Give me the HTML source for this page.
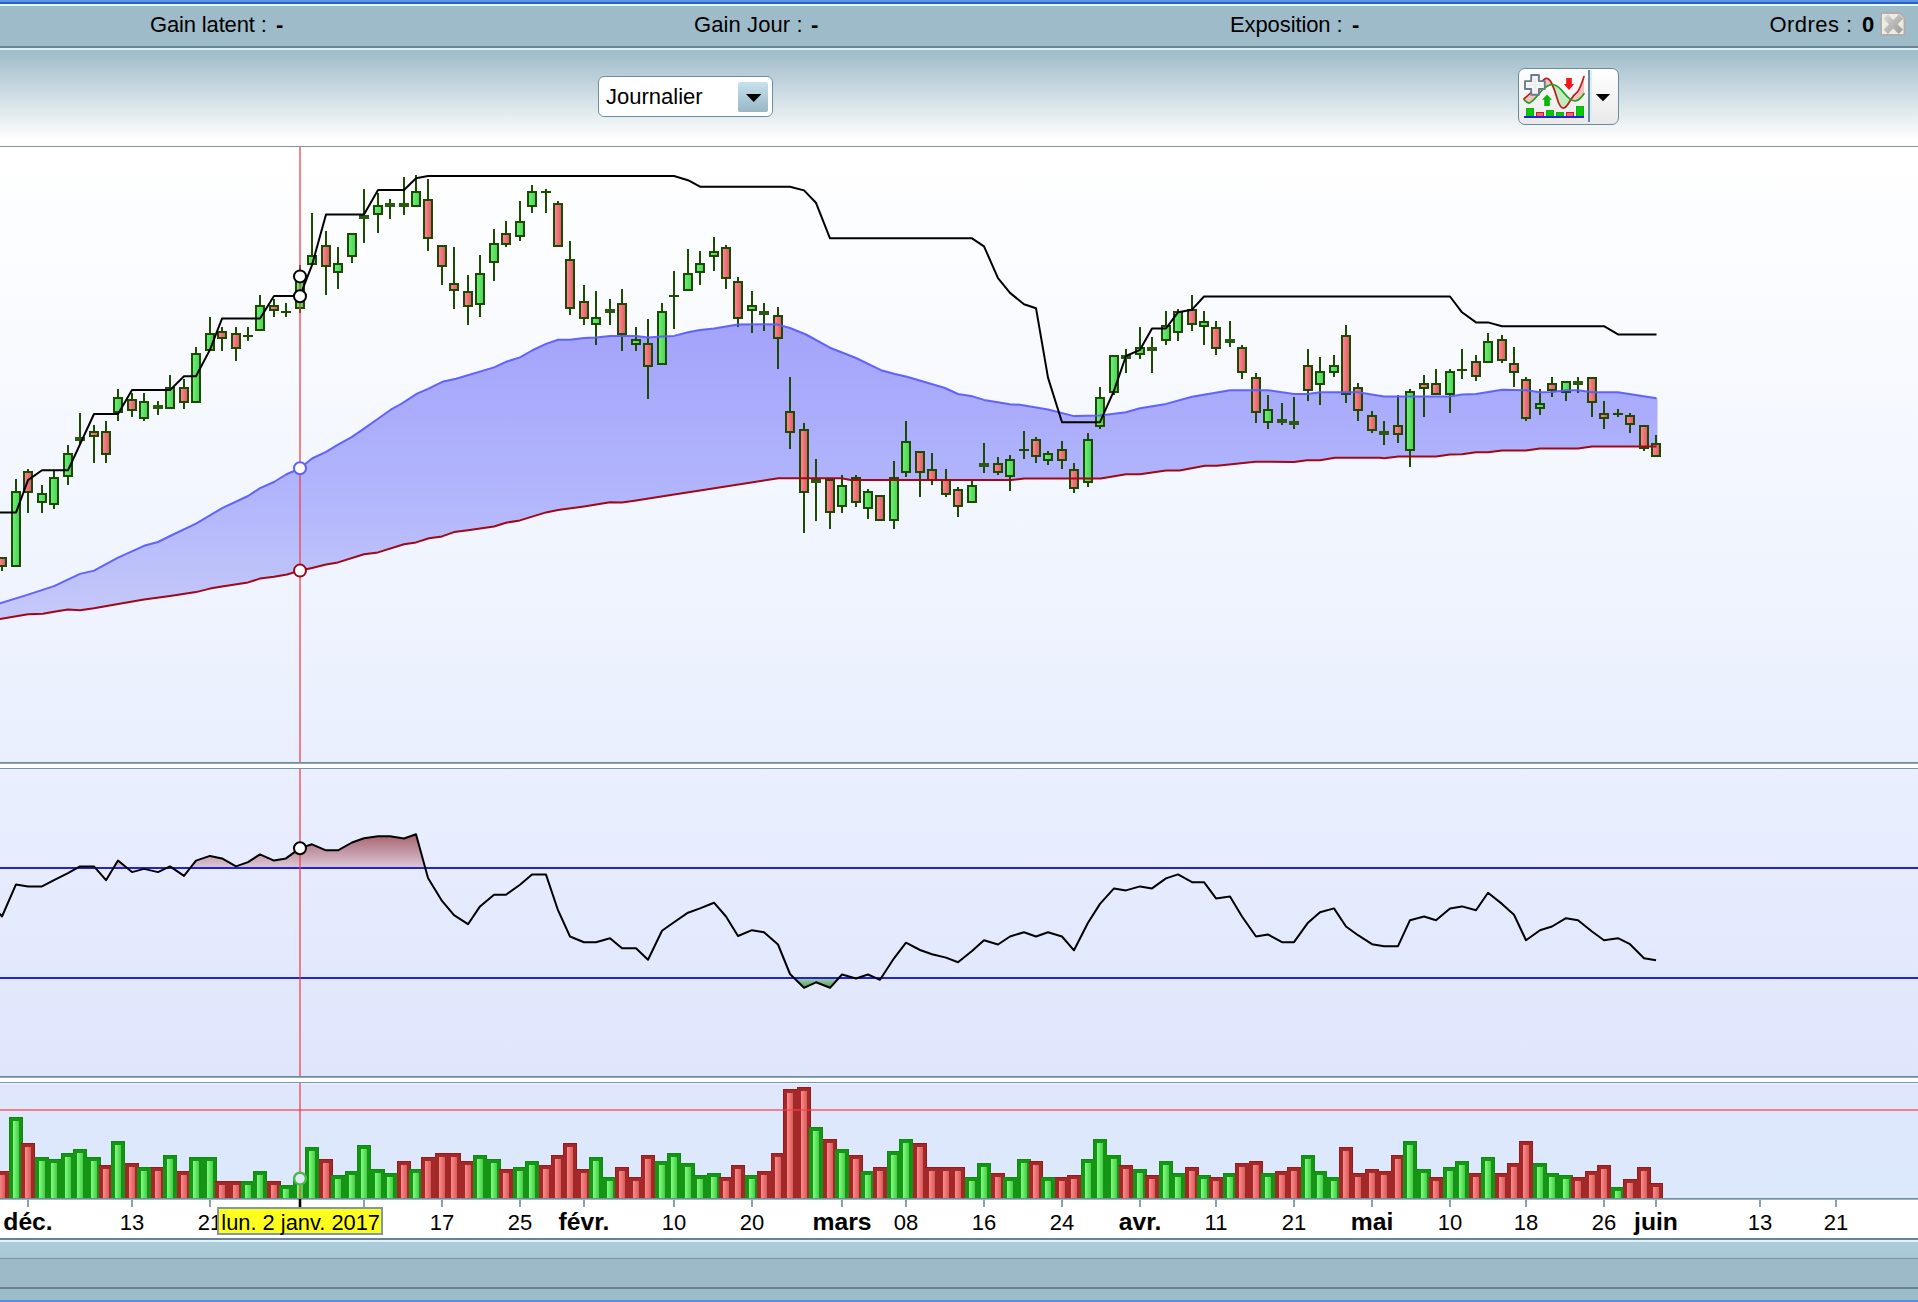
<!DOCTYPE html>
<html lang="fr"><head><meta charset="utf-8"><title>Graphique</title>
<style>
html,body{margin:0;padding:0;background:#fff}
body{width:1918px;height:1302px;position:relative;overflow:hidden;font-family:"Liberation Sans", Arial, sans-serif;color:#000}
.abs{position:absolute}
.t{position:absolute;white-space:pre;font-size:22px;line-height:26px;height:26px}
.b{font-weight:bold}
#topblue1{left:0;top:0;width:1918px;height:2px;background:#5c94ec}
#topblue2{left:0;top:2px;width:1918px;height:2px;background:#2860c4}
#toplight{left:0;top:4px;width:1918px;height:2px;background:#e4f8ff}
#hdr{left:0;top:6px;width:1918px;height:40px;background:#9dbbc8;border-top:1px solid #98b7c4;box-sizing:border-box}
#hdrdark{left:0;top:46px;width:1918px;height:2px;background:#6c8592}
#hdrlight{left:0;top:48px;width:1918px;height:2px;background:#daf0f8}
#tool{left:0;top:50px;width:1918px;height:96px;background:linear-gradient(to bottom,#9fbcc9 0%,#a5c0cd 7%,#ffffff 94%)}
#toolline{left:0;top:146px;width:1918px;height:1px;background:#7d95a3}
#combo{left:598px;top:76px;width:175px;height:41px;box-sizing:border-box;border:1px solid #6f8e9c;border-radius:6px;background:#fff}
#comboBtn{left:738px;top:82px;width:30px;height:30px;border-radius:2px;background:linear-gradient(to bottom,#c6e2ee,#98b6c4)}
#ibtn{left:1518px;top:68px;width:101px;height:57px;box-sizing:border-box;border:1px solid #6d8a98;border-radius:7px;background:linear-gradient(to bottom,#ffffff,#e9e9e9)}
#foot1{left:0;top:1238px;width:1918px;height:2px;background:#6b8290}
#foot2{left:0;top:1240px;width:1918px;height:2px;background:#dcf4fc}
#foot3{left:0;top:1242px;width:1918px;height:16px;background:linear-gradient(to bottom,#adccd9,#a9c8d6)}
#foot4{left:0;top:1258px;width:1918px;height:1px;background:#7a94a2}
#foot5{left:0;top:1259px;width:1918px;height:28px;background:#9cbac8}
#foot6{left:0;top:1287px;width:1918px;height:2px;background:#6c8490}
#foot7{left:0;top:1289px;width:1918px;height:11px;background:#9dbcc9}
#foot8{left:0;top:1300px;width:1918px;height:2px;background:#5a8ee8}
svg{position:absolute;left:0;top:0}
svg text{font-family:"Liberation Sans", Arial, sans-serif;font-size:22px;fill:#000}

</style></head><body>
<div class="abs" id="topblue1"></div>
<div class="abs" id="topblue2"></div>
<div class="abs" id="toplight"></div>
<div class="abs" id="hdr"></div>
<div class="abs" id="hdrdark"></div>
<div class="abs" id="hdrlight"></div>
<div class="abs" id="tool"></div>
<div class="abs" id="toolline"></div>
<div class="abs" id="foot1"></div>
<div class="abs" id="foot2"></div>
<div class="abs" id="foot3"></div>
<div class="abs" id="foot4"></div>
<div class="abs" id="foot5"></div>
<div class="abs" id="foot6"></div>
<div class="abs" id="foot7"></div>
<div class="abs" id="foot8"></div>
<div class="t" style="left:150px;top:12px;letter-spacing:-0.15px">Gain latent :</div>
<div class="t b" style="left:276px;top:12px">-</div>
<div class="t" style="left:694px;top:12px;letter-spacing:0.1px">Gain Jour :</div>
<div class="t b" style="left:811px;top:12px">-</div>
<div class="t" style="left:1230px;top:12px;letter-spacing:-0.1px">Exposition :</div>
<div class="t b" style="left:1352px;top:12px">-</div>
<div class="t" style="left:1769.5px;top:12px;letter-spacing:0.45px">Ordres :</div>
<div class="t b" style="left:1862px;top:12px">0</div>
<div class="abs" id="combo"></div><div class="abs" id="comboBtn"></div>
<div class="t" style="left:606px;top:84px">Journalier</div>
<div class="abs" id="ibtn"></div>
<svg width="1918" height="1302" viewBox="0 0 1918 1302">
<defs>
<linearGradient id="bgMain" x1="0" y1="0" x2="0" y2="1"><stop offset="0" stop-color="#ffffff"/><stop offset="0.45" stop-color="#f5f8fe"/><stop offset="1" stop-color="#e9effe"/></linearGradient>
<linearGradient id="bgInd" x1="0" y1="0" x2="0" y2="1"><stop offset="0" stop-color="#e9effe"/><stop offset="1" stop-color="#dfe6fc"/></linearGradient>
<linearGradient id="bgVol" x1="0" y1="0" x2="0" y2="1"><stop offset="0" stop-color="#e0e6fc"/><stop offset="0.4" stop-color="#dde8fc"/><stop offset="1" stop-color="#dce8fc"/></linearGradient>
<linearGradient id="band" gradientUnits="userSpaceOnUse" x1="0" y1="320" x2="0" y2="620"><stop offset="0" stop-color="#a3a3fb"/><stop offset="0.6" stop-color="#b2b6fc"/><stop offset="1" stop-color="#c5c9f9"/></linearGradient>
<linearGradient id="gG" x1="0" y1="0" x2="1" y2="0"><stop offset="0" stop-color="#68f070"/><stop offset="1" stop-color="#4fd45a"/></linearGradient>
<linearGradient id="gR" x1="0" y1="0" x2="1" y2="0"><stop offset="0" stop-color="#ff858c"/><stop offset="1" stop-color="#de6068"/></linearGradient>
<linearGradient id="vG" x1="0" y1="0" x2="1" y2="0"><stop offset="0" stop-color="#80ff80"/><stop offset="1" stop-color="#48cc48"/></linearGradient>
<linearGradient id="vR" x1="0" y1="0" x2="1" y2="0"><stop offset="0" stop-color="#ff8c8c"/><stop offset="1" stop-color="#d65c5c"/></linearGradient>
<linearGradient id="ob" gradientUnits="userSpaceOnUse" x1="0" y1="832" x2="0" y2="868"><stop offset="0" stop-color="#a45c68"/><stop offset="1" stop-color="#dcc8d8"/></linearGradient>
<linearGradient id="os" gradientUnits="userSpaceOnUse" x1="0" y1="978" x2="0" y2="990"><stop offset="0" stop-color="#a8d0b0"/><stop offset="1" stop-color="#3c9050"/></linearGradient>
<clipPath id="cMain"><rect x="0" y="147" width="1918" height="615"/></clipPath>
<clipPath id="cInd"><rect x="0" y="769" width="1918" height="307"/></clipPath>
<clipPath id="cVol"><rect x="0" y="1083" width="1918" height="115"/></clipPath>
<clipPath id="cOb"><rect x="0" y="769" width="1918" height="99"/></clipPath>
<clipPath id="cOs"><rect x="0" y="978" width="1918" height="98"/></clipPath>
</defs>
<rect x="0" y="147" width="1918" height="615" fill="url(#bgMain)"/>
<rect x="0" y="762" width="1918" height="1" fill="#6e8c9a"/>
<rect x="0" y="763" width="1918" height="1" fill="#8fa6b3"/>
<rect x="0" y="764" width="1918" height="4" fill="#ffffff"/>
<rect x="0" y="768" width="1918" height="1" fill="#7a95a2"/>
<rect x="0" y="769" width="1918" height="307" fill="url(#bgInd)"/>
<rect x="0" y="1076" width="1918" height="1" fill="#6e8c9a"/>
<rect x="0" y="1077" width="1918" height="1" fill="#8fa6b3"/>
<rect x="0" y="1078" width="1918" height="4" fill="#ffffff"/>
<rect x="0" y="1082" width="1918" height="1" fill="#7a95a2"/>
<rect x="0" y="1083" width="1918" height="115" fill="url(#bgVol)"/>
<rect x="0" y="1083" width="1918" height="1" fill="#f0f6ff"/>
<g clip-path="url(#cMain)">
<polygon points="-2,604 0,603.4 28,594.6 54,586.1 80,573.9 94,570.6 118,557.6 144,545.8 158,542 170,536 196,523.6 222,508.2 248,496 260,488.2 274,482 286,474.5 300,468.3 312,458.5 326,451.9 338,444.6 352,436.9 364,428.6 378,418.7 390.7,409.7 401,404 417,393.6 428,388.8 442.3,381.8 456,378.7 494,367.4 506,361.8 520,357.4 532,350.5 546,343.9 558,339.8 570,339.8 584,337.9 596,337.4 610,335.9 622,335.9 636,336.1 648,337.4 662,336.4 674,335.9 688,332.2 700,329.9 714,328.4 738,324.6 764,324.2 778,324.6 790,328 806,334.5 830,347.7 856,358 881,370.2 895,374 907,376.8 945,388 958,394 971,395.9 984,399.9 1010,404.3 1020,404.8 1048,409.5 1074,416.1 1100,415.5 1126,412.3 1140,408.2 1166,403.9 1192,396.7 1230,390.2 1268,390.2 1294,393.9 1308,393.9 1320,392.2 1358,392.2 1384,396.4 1450,396.4 1462,394.5 1476,394.1 1502,389.8 1526,390.2 1540,392.2 1552,392 1566,390.2 1578,390.2 1592,392.2 1618,392.2 1656.5,398.2 1657.5,398.2 1657.5,446.5 1656.5,446.5 1592,446.5 1578,448.5 1540,448.5 1526,450.4 1502,450.4 1488,452.3 1476,452.3 1462,454.2 1450,454.5 1436,456.4 1398.5,456.4 1384,458.3 1380,457.7 1335,457.7 1320,460.2 1307,460.2 1294,462.1 1255.5,461.7 1217,465.8 1205,465.8 1179.5,470.5 1166,470.5 1140,474.3 1126,474.3 1100.7,478.6 1024.4,478.4 1011.3,480.1 850.8,480.1 841.4,478.2 778.5,478.2 700,490.6 674,494.4 636,500.4 622,502.4 610,502.2 584,506.4 558,510.1 546,512.4 520,520.4 506,522.7 494,526.5 468,530.2 454,532.1 442,536.4 429,538.3 416,542.4 404,544.3 378,552.4 364,554.2 338,562.4 326,564.5 312,567.9 300,570.6 287,574.5 274,576.8 260,578.6 248,582.4 222,586.5 210,588.6 196,592.1 170,595.9 144,599.6 118,604 94,608.3 80,610.2 68,609.6 54,611.8 43,613.7 28,614.3 0,619 -2,619.4" fill="url(#band)"/>
<rect x="1" y="557" width="2" height="14" fill="#1c4a02"/>
<rect x="-3" y="557" width="10" height="10" fill="#1c4a02"/>
<rect x="-1" y="559" width="6" height="6" fill="url(#gR)"/>
<rect x="15" y="479" width="2" height="88" fill="#1c4a02"/>
<rect x="11" y="491" width="10" height="76" fill="#1c4a02"/>
<rect x="13" y="493" width="6" height="72" fill="url(#gG)"/>
<rect x="27" y="469" width="2" height="44" fill="#1c4a02"/>
<rect x="23" y="471" width="10" height="22" fill="#1c4a02"/>
<rect x="25" y="473" width="6" height="18" fill="url(#gR)"/>
<rect x="41" y="485" width="2" height="28" fill="#1c4a02"/>
<rect x="37" y="493" width="10" height="10" fill="#1c4a02"/>
<rect x="39" y="495" width="6" height="6" fill="url(#gG)"/>
<rect x="53" y="471" width="2" height="38" fill="#1c4a02"/>
<rect x="49" y="477" width="10" height="28" fill="#1c4a02"/>
<rect x="51" y="479" width="6" height="24" fill="url(#gG)"/>
<rect x="67" y="445" width="2" height="40" fill="#1c4a02"/>
<rect x="63" y="453" width="10" height="24" fill="#1c4a02"/>
<rect x="65" y="455" width="6" height="20" fill="url(#gG)"/>
<rect x="79" y="413" width="2" height="32" fill="#1c4a02"/>
<rect x="75" y="437" width="10" height="4" fill="#2a5a12"/>
<rect x="93" y="425" width="2" height="38" fill="#1c4a02"/>
<rect x="89" y="431" width="10" height="6" fill="#1c4a02"/>
<rect x="91" y="433" width="6" height="2" fill="url(#gR)"/>
<rect x="105" y="421" width="2" height="42" fill="#1c4a02"/>
<rect x="101" y="431" width="10" height="24" fill="#1c4a02"/>
<rect x="103" y="433" width="6" height="20" fill="url(#gR)"/>
<rect x="117" y="389" width="2" height="32" fill="#1c4a02"/>
<rect x="113" y="397" width="10" height="16" fill="#1c4a02"/>
<rect x="115" y="399" width="6" height="12" fill="url(#gG)"/>
<rect x="131" y="393" width="2" height="24" fill="#1c4a02"/>
<rect x="127" y="399" width="10" height="12" fill="#1c4a02"/>
<rect x="129" y="401" width="6" height="8" fill="url(#gR)"/>
<rect x="143" y="393" width="2" height="28" fill="#1c4a02"/>
<rect x="139" y="401" width="10" height="18" fill="#1c4a02"/>
<rect x="141" y="403" width="6" height="14" fill="url(#gG)"/>
<rect x="157" y="401" width="2" height="14" fill="#1c4a02"/>
<rect x="153" y="405" width="10" height="4" fill="#2a5a12"/>
<rect x="169" y="375" width="2" height="34" fill="#1c4a02"/>
<rect x="165" y="387" width="10" height="22" fill="#1c4a02"/>
<rect x="167" y="389" width="6" height="18" fill="url(#gG)"/>
<rect x="183" y="379" width="2" height="30" fill="#1c4a02"/>
<rect x="179" y="387" width="10" height="16" fill="#1c4a02"/>
<rect x="181" y="389" width="6" height="12" fill="url(#gR)"/>
<rect x="195" y="347" width="2" height="56" fill="#1c4a02"/>
<rect x="191" y="353" width="10" height="50" fill="#1c4a02"/>
<rect x="193" y="355" width="6" height="46" fill="url(#gG)"/>
<rect x="209" y="317" width="2" height="34" fill="#1c4a02"/>
<rect x="205" y="333" width="10" height="18" fill="#1c4a02"/>
<rect x="207" y="335" width="6" height="14" fill="url(#gG)"/>
<rect x="221" y="327" width="2" height="24" fill="#1c4a02"/>
<rect x="217" y="331" width="10" height="8" fill="#1c4a02"/>
<rect x="219" y="333" width="6" height="4" fill="url(#gR)"/>
<rect x="235" y="327" width="2" height="34" fill="#1c4a02"/>
<rect x="231" y="333" width="10" height="16" fill="#1c4a02"/>
<rect x="233" y="335" width="6" height="12" fill="url(#gR)"/>
<rect x="247" y="327" width="2" height="14" fill="#1c4a02"/>
<rect x="243" y="335" width="10" height="2" fill="#1c4a02"/>
<rect x="259" y="295" width="2" height="36" fill="#1c4a02"/>
<rect x="255" y="305" width="10" height="26" fill="#1c4a02"/>
<rect x="257" y="307" width="6" height="22" fill="url(#gG)"/>
<rect x="273" y="299" width="2" height="18" fill="#1c4a02"/>
<rect x="269" y="305" width="10" height="6" fill="#1c4a02"/>
<rect x="271" y="307" width="6" height="2" fill="url(#gR)"/>
<rect x="285" y="303" width="2" height="14" fill="#1c4a02"/>
<rect x="281" y="311" width="10" height="2" fill="#1c4a02"/>
<rect x="299" y="265" width="2" height="48" fill="#1c4a02"/>
<rect x="295" y="277" width="10" height="32" fill="#1c4a02"/>
<rect x="297" y="279" width="6" height="28" fill="url(#gG)"/>
<rect x="311" y="213" width="2" height="52" fill="#1c4a02"/>
<rect x="307" y="255" width="10" height="10" fill="#1c4a02"/>
<rect x="309" y="257" width="6" height="6" fill="url(#gG)"/>
<rect x="325" y="231" width="2" height="64" fill="#1c4a02"/>
<rect x="321" y="245" width="10" height="22" fill="#1c4a02"/>
<rect x="323" y="247" width="6" height="18" fill="url(#gR)"/>
<rect x="337" y="247" width="2" height="42" fill="#1c4a02"/>
<rect x="333" y="263" width="10" height="10" fill="#1c4a02"/>
<rect x="335" y="265" width="6" height="6" fill="url(#gG)"/>
<rect x="351" y="233" width="2" height="30" fill="#1c4a02"/>
<rect x="347" y="233" width="10" height="24" fill="#1c4a02"/>
<rect x="349" y="235" width="6" height="20" fill="url(#gG)"/>
<rect x="363" y="189" width="2" height="54" fill="#1c4a02"/>
<rect x="359" y="215" width="10" height="4" fill="#2a5a12"/>
<rect x="377" y="193" width="2" height="40" fill="#1c4a02"/>
<rect x="373" y="205" width="10" height="10" fill="#1c4a02"/>
<rect x="375" y="207" width="6" height="6" fill="url(#gG)"/>
<rect x="389" y="199" width="2" height="20" fill="#1c4a02"/>
<rect x="385" y="203" width="10" height="4" fill="#2a5a12"/>
<rect x="403" y="177" width="2" height="38" fill="#1c4a02"/>
<rect x="399" y="203" width="10" height="4" fill="#2a5a12"/>
<rect x="415" y="175" width="2" height="32" fill="#1c4a02"/>
<rect x="411" y="191" width="10" height="16" fill="#1c4a02"/>
<rect x="413" y="193" width="6" height="12" fill="url(#gG)"/>
<rect x="427" y="179" width="2" height="72" fill="#1c4a02"/>
<rect x="423" y="199" width="10" height="40" fill="#1c4a02"/>
<rect x="425" y="201" width="6" height="36" fill="url(#gR)"/>
<rect x="441" y="245" width="2" height="40" fill="#1c4a02"/>
<rect x="437" y="245" width="10" height="22" fill="#1c4a02"/>
<rect x="439" y="247" width="6" height="18" fill="url(#gR)"/>
<rect x="453" y="247" width="2" height="62" fill="#1c4a02"/>
<rect x="449" y="283" width="10" height="8" fill="#1c4a02"/>
<rect x="451" y="285" width="6" height="4" fill="url(#gR)"/>
<rect x="467" y="275" width="2" height="50" fill="#1c4a02"/>
<rect x="463" y="291" width="10" height="16" fill="#1c4a02"/>
<rect x="465" y="293" width="6" height="12" fill="url(#gR)"/>
<rect x="479" y="255" width="2" height="62" fill="#1c4a02"/>
<rect x="475" y="273" width="10" height="32" fill="#1c4a02"/>
<rect x="477" y="275" width="6" height="28" fill="url(#gG)"/>
<rect x="493" y="229" width="2" height="52" fill="#1c4a02"/>
<rect x="489" y="243" width="10" height="20" fill="#1c4a02"/>
<rect x="491" y="245" width="6" height="16" fill="url(#gG)"/>
<rect x="505" y="221" width="2" height="26" fill="#1c4a02"/>
<rect x="501" y="233" width="10" height="12" fill="#1c4a02"/>
<rect x="503" y="235" width="6" height="8" fill="url(#gR)"/>
<rect x="519" y="201" width="2" height="40" fill="#1c4a02"/>
<rect x="515" y="221" width="10" height="16" fill="#1c4a02"/>
<rect x="517" y="223" width="6" height="12" fill="url(#gG)"/>
<rect x="531" y="185" width="2" height="28" fill="#1c4a02"/>
<rect x="527" y="191" width="10" height="16" fill="#1c4a02"/>
<rect x="529" y="193" width="6" height="12" fill="url(#gG)"/>
<rect x="545" y="189" width="2" height="24" fill="#1c4a02"/>
<rect x="541" y="191" width="10" height="2" fill="#1c4a02"/>
<rect x="557" y="201" width="2" height="46" fill="#1c4a02"/>
<rect x="553" y="203" width="10" height="44" fill="#1c4a02"/>
<rect x="555" y="205" width="6" height="40" fill="url(#gR)"/>
<rect x="569" y="241" width="2" height="74" fill="#1c4a02"/>
<rect x="565" y="259" width="10" height="50" fill="#1c4a02"/>
<rect x="567" y="261" width="6" height="46" fill="url(#gR)"/>
<rect x="583" y="285" width="2" height="40" fill="#1c4a02"/>
<rect x="579" y="301" width="10" height="18" fill="#1c4a02"/>
<rect x="581" y="303" width="6" height="14" fill="url(#gR)"/>
<rect x="595" y="291" width="2" height="54" fill="#1c4a02"/>
<rect x="591" y="317" width="10" height="8" fill="#1c4a02"/>
<rect x="593" y="319" width="6" height="4" fill="url(#gG)"/>
<rect x="609" y="299" width="2" height="26" fill="#1c4a02"/>
<rect x="605" y="309" width="10" height="4" fill="#2a5a12"/>
<rect x="621" y="289" width="2" height="62" fill="#1c4a02"/>
<rect x="617" y="303" width="10" height="32" fill="#1c4a02"/>
<rect x="619" y="305" width="6" height="28" fill="url(#gR)"/>
<rect x="635" y="327" width="2" height="24" fill="#1c4a02"/>
<rect x="631" y="339" width="10" height="6" fill="#1c4a02"/>
<rect x="633" y="341" width="6" height="2" fill="url(#gG)"/>
<rect x="647" y="319" width="2" height="80" fill="#1c4a02"/>
<rect x="643" y="343" width="10" height="24" fill="#1c4a02"/>
<rect x="645" y="345" width="6" height="20" fill="url(#gR)"/>
<rect x="661" y="303" width="2" height="62" fill="#1c4a02"/>
<rect x="657" y="311" width="10" height="54" fill="#1c4a02"/>
<rect x="659" y="313" width="6" height="50" fill="url(#gG)"/>
<rect x="673" y="271" width="2" height="58" fill="#1c4a02"/>
<rect x="669" y="295" width="10" height="2" fill="#1c4a02"/>
<rect x="687" y="249" width="2" height="42" fill="#1c4a02"/>
<rect x="683" y="273" width="10" height="18" fill="#1c4a02"/>
<rect x="685" y="275" width="6" height="14" fill="url(#gG)"/>
<rect x="699" y="251" width="2" height="34" fill="#1c4a02"/>
<rect x="695" y="263" width="10" height="10" fill="#1c4a02"/>
<rect x="697" y="265" width="6" height="6" fill="url(#gG)"/>
<rect x="713" y="237" width="2" height="34" fill="#1c4a02"/>
<rect x="709" y="251" width="10" height="6" fill="#1c4a02"/>
<rect x="711" y="253" width="6" height="2" fill="url(#gG)"/>
<rect x="725" y="245" width="2" height="44" fill="#1c4a02"/>
<rect x="721" y="247" width="10" height="32" fill="#1c4a02"/>
<rect x="723" y="249" width="6" height="28" fill="url(#gR)"/>
<rect x="737" y="277" width="2" height="50" fill="#1c4a02"/>
<rect x="733" y="281" width="10" height="38" fill="#1c4a02"/>
<rect x="735" y="283" width="6" height="34" fill="url(#gR)"/>
<rect x="751" y="291" width="2" height="42" fill="#1c4a02"/>
<rect x="747" y="305" width="10" height="6" fill="#1c4a02"/>
<rect x="749" y="307" width="6" height="2" fill="url(#gG)"/>
<rect x="763" y="303" width="2" height="28" fill="#1c4a02"/>
<rect x="759" y="311" width="10" height="4" fill="#2a5a12"/>
<rect x="777" y="307" width="2" height="62" fill="#1c4a02"/>
<rect x="773" y="315" width="10" height="24" fill="#1c4a02"/>
<rect x="775" y="317" width="6" height="20" fill="url(#gR)"/>
<rect x="789" y="377" width="2" height="72" fill="#1c4a02"/>
<rect x="785" y="411" width="10" height="22" fill="#1c4a02"/>
<rect x="787" y="413" width="6" height="18" fill="url(#gR)"/>
<rect x="803" y="423" width="2" height="110" fill="#1c4a02"/>
<rect x="799" y="429" width="10" height="64" fill="#1c4a02"/>
<rect x="801" y="431" width="6" height="60" fill="url(#gR)"/>
<rect x="815" y="459" width="2" height="62" fill="#1c4a02"/>
<rect x="811" y="479" width="10" height="4" fill="#2a5a12"/>
<rect x="829" y="479" width="2" height="50" fill="#1c4a02"/>
<rect x="825" y="479" width="10" height="34" fill="#1c4a02"/>
<rect x="827" y="481" width="6" height="30" fill="url(#gR)"/>
<rect x="841" y="475" width="2" height="38" fill="#1c4a02"/>
<rect x="837" y="485" width="10" height="22" fill="#1c4a02"/>
<rect x="839" y="487" width="6" height="18" fill="url(#gG)"/>
<rect x="855" y="475" width="2" height="32" fill="#1c4a02"/>
<rect x="851" y="477" width="10" height="26" fill="#1c4a02"/>
<rect x="853" y="479" width="6" height="22" fill="url(#gR)"/>
<rect x="867" y="489" width="2" height="30" fill="#1c4a02"/>
<rect x="863" y="491" width="10" height="18" fill="#1c4a02"/>
<rect x="865" y="493" width="6" height="14" fill="url(#gG)"/>
<rect x="879" y="495" width="2" height="26" fill="#1c4a02"/>
<rect x="875" y="495" width="10" height="26" fill="#1c4a02"/>
<rect x="877" y="497" width="6" height="22" fill="url(#gR)"/>
<rect x="893" y="461" width="2" height="68" fill="#1c4a02"/>
<rect x="889" y="477" width="10" height="44" fill="#1c4a02"/>
<rect x="891" y="479" width="6" height="40" fill="url(#gG)"/>
<rect x="905" y="421" width="2" height="56" fill="#1c4a02"/>
<rect x="901" y="441" width="10" height="32" fill="#1c4a02"/>
<rect x="903" y="443" width="6" height="28" fill="url(#gG)"/>
<rect x="919" y="451" width="2" height="46" fill="#1c4a02"/>
<rect x="915" y="451" width="10" height="22" fill="#1c4a02"/>
<rect x="917" y="453" width="6" height="18" fill="url(#gR)"/>
<rect x="931" y="453" width="2" height="32" fill="#1c4a02"/>
<rect x="927" y="469" width="10" height="12" fill="#1c4a02"/>
<rect x="929" y="471" width="6" height="8" fill="url(#gR)"/>
<rect x="945" y="469" width="2" height="28" fill="#1c4a02"/>
<rect x="941" y="479" width="10" height="16" fill="#1c4a02"/>
<rect x="943" y="481" width="6" height="12" fill="url(#gR)"/>
<rect x="957" y="487" width="2" height="30" fill="#1c4a02"/>
<rect x="953" y="489" width="10" height="18" fill="#1c4a02"/>
<rect x="955" y="491" width="6" height="14" fill="url(#gR)"/>
<rect x="971" y="481" width="2" height="22" fill="#1c4a02"/>
<rect x="967" y="485" width="10" height="18" fill="#1c4a02"/>
<rect x="969" y="487" width="6" height="14" fill="url(#gG)"/>
<rect x="983" y="443" width="2" height="30" fill="#1c4a02"/>
<rect x="979" y="463" width="10" height="4" fill="#2a5a12"/>
<rect x="997" y="457" width="2" height="18" fill="#1c4a02"/>
<rect x="993" y="463" width="10" height="10" fill="#1c4a02"/>
<rect x="995" y="465" width="6" height="6" fill="url(#gR)"/>
<rect x="1009" y="455" width="2" height="36" fill="#1c4a02"/>
<rect x="1005" y="459" width="10" height="18" fill="#1c4a02"/>
<rect x="1007" y="461" width="6" height="14" fill="url(#gG)"/>
<rect x="1023" y="431" width="2" height="28" fill="#1c4a02"/>
<rect x="1019" y="449" width="10" height="2" fill="#1c4a02"/>
<rect x="1035" y="437" width="2" height="26" fill="#1c4a02"/>
<rect x="1031" y="439" width="10" height="18" fill="#1c4a02"/>
<rect x="1033" y="441" width="6" height="14" fill="url(#gR)"/>
<rect x="1047" y="451" width="2" height="14" fill="#1c4a02"/>
<rect x="1043" y="453" width="10" height="8" fill="#1c4a02"/>
<rect x="1045" y="455" width="6" height="4" fill="url(#gG)"/>
<rect x="1061" y="441" width="2" height="28" fill="#1c4a02"/>
<rect x="1057" y="449" width="10" height="12" fill="#1c4a02"/>
<rect x="1059" y="451" width="6" height="8" fill="url(#gR)"/>
<rect x="1073" y="463" width="2" height="30" fill="#1c4a02"/>
<rect x="1069" y="469" width="10" height="20" fill="#1c4a02"/>
<rect x="1071" y="471" width="6" height="16" fill="url(#gR)"/>
<rect x="1087" y="433" width="2" height="54" fill="#1c4a02"/>
<rect x="1083" y="439" width="10" height="44" fill="#1c4a02"/>
<rect x="1085" y="441" width="6" height="40" fill="url(#gG)"/>
<rect x="1099" y="387" width="2" height="42" fill="#1c4a02"/>
<rect x="1095" y="397" width="10" height="30" fill="#1c4a02"/>
<rect x="1097" y="399" width="6" height="26" fill="url(#gG)"/>
<rect x="1113" y="355" width="2" height="40" fill="#1c4a02"/>
<rect x="1109" y="355" width="10" height="38" fill="#1c4a02"/>
<rect x="1111" y="357" width="6" height="34" fill="url(#gG)"/>
<rect x="1125" y="349" width="2" height="24" fill="#1c4a02"/>
<rect x="1121" y="355" width="10" height="4" fill="#2a5a12"/>
<rect x="1139" y="327" width="2" height="32" fill="#1c4a02"/>
<rect x="1135" y="347" width="10" height="8" fill="#1c4a02"/>
<rect x="1137" y="349" width="6" height="4" fill="url(#gG)"/>
<rect x="1151" y="337" width="2" height="36" fill="#1c4a02"/>
<rect x="1147" y="347" width="10" height="4" fill="#2a5a12"/>
<rect x="1165" y="311" width="2" height="34" fill="#1c4a02"/>
<rect x="1161" y="325" width="10" height="16" fill="#1c4a02"/>
<rect x="1163" y="327" width="6" height="12" fill="url(#gG)"/>
<rect x="1177" y="309" width="2" height="32" fill="#1c4a02"/>
<rect x="1173" y="311" width="10" height="22" fill="#1c4a02"/>
<rect x="1175" y="313" width="6" height="18" fill="url(#gG)"/>
<rect x="1191" y="295" width="2" height="36" fill="#1c4a02"/>
<rect x="1187" y="309" width="10" height="16" fill="#1c4a02"/>
<rect x="1189" y="311" width="6" height="12" fill="url(#gR)"/>
<rect x="1203" y="311" width="2" height="34" fill="#1c4a02"/>
<rect x="1199" y="321" width="10" height="6" fill="#1c4a02"/>
<rect x="1201" y="323" width="6" height="2" fill="url(#gG)"/>
<rect x="1215" y="321" width="2" height="34" fill="#1c4a02"/>
<rect x="1211" y="327" width="10" height="22" fill="#1c4a02"/>
<rect x="1213" y="329" width="6" height="18" fill="url(#gR)"/>
<rect x="1229" y="321" width="2" height="26" fill="#1c4a02"/>
<rect x="1225" y="339" width="10" height="4" fill="#2a5a12"/>
<rect x="1241" y="345" width="2" height="34" fill="#1c4a02"/>
<rect x="1237" y="347" width="10" height="26" fill="#1c4a02"/>
<rect x="1239" y="349" width="6" height="22" fill="url(#gR)"/>
<rect x="1255" y="373" width="2" height="50" fill="#1c4a02"/>
<rect x="1251" y="377" width="10" height="36" fill="#1c4a02"/>
<rect x="1253" y="379" width="6" height="32" fill="url(#gR)"/>
<rect x="1267" y="395" width="2" height="34" fill="#1c4a02"/>
<rect x="1263" y="409" width="10" height="14" fill="#1c4a02"/>
<rect x="1265" y="411" width="6" height="10" fill="url(#gG)"/>
<rect x="1281" y="403" width="2" height="22" fill="#1c4a02"/>
<rect x="1277" y="419" width="10" height="4" fill="#2a5a12"/>
<rect x="1293" y="397" width="2" height="32" fill="#1c4a02"/>
<rect x="1289" y="421" width="10" height="4" fill="#2a5a12"/>
<rect x="1307" y="349" width="2" height="52" fill="#1c4a02"/>
<rect x="1303" y="365" width="10" height="26" fill="#1c4a02"/>
<rect x="1305" y="367" width="6" height="22" fill="url(#gR)"/>
<rect x="1319" y="357" width="2" height="48" fill="#1c4a02"/>
<rect x="1315" y="371" width="10" height="14" fill="#1c4a02"/>
<rect x="1317" y="373" width="6" height="10" fill="url(#gG)"/>
<rect x="1333" y="355" width="2" height="22" fill="#1c4a02"/>
<rect x="1329" y="365" width="10" height="8" fill="#1c4a02"/>
<rect x="1331" y="367" width="6" height="4" fill="url(#gG)"/>
<rect x="1345" y="325" width="2" height="78" fill="#1c4a02"/>
<rect x="1341" y="335" width="10" height="60" fill="#1c4a02"/>
<rect x="1343" y="337" width="6" height="56" fill="url(#gR)"/>
<rect x="1357" y="383" width="2" height="38" fill="#1c4a02"/>
<rect x="1353" y="387" width="10" height="24" fill="#1c4a02"/>
<rect x="1355" y="389" width="6" height="20" fill="url(#gR)"/>
<rect x="1371" y="411" width="2" height="22" fill="#1c4a02"/>
<rect x="1367" y="415" width="10" height="16" fill="#1c4a02"/>
<rect x="1369" y="417" width="6" height="12" fill="url(#gR)"/>
<rect x="1383" y="421" width="2" height="24" fill="#1c4a02"/>
<rect x="1379" y="431" width="10" height="4" fill="#2a5a12"/>
<rect x="1397" y="395" width="2" height="48" fill="#1c4a02"/>
<rect x="1393" y="425" width="10" height="10" fill="#1c4a02"/>
<rect x="1395" y="427" width="6" height="6" fill="url(#gR)"/>
<rect x="1409" y="389" width="2" height="78" fill="#1c4a02"/>
<rect x="1405" y="391" width="10" height="60" fill="#1c4a02"/>
<rect x="1407" y="393" width="6" height="56" fill="url(#gG)"/>
<rect x="1423" y="375" width="2" height="42" fill="#1c4a02"/>
<rect x="1419" y="383" width="10" height="6" fill="#1c4a02"/>
<rect x="1421" y="385" width="6" height="2" fill="url(#gR)"/>
<rect x="1435" y="369" width="2" height="26" fill="#1c4a02"/>
<rect x="1431" y="383" width="10" height="12" fill="#1c4a02"/>
<rect x="1433" y="385" width="6" height="8" fill="url(#gR)"/>
<rect x="1449" y="369" width="2" height="44" fill="#1c4a02"/>
<rect x="1445" y="371" width="10" height="24" fill="#1c4a02"/>
<rect x="1447" y="373" width="6" height="20" fill="url(#gG)"/>
<rect x="1461" y="349" width="2" height="30" fill="#1c4a02"/>
<rect x="1457" y="369" width="10" height="2" fill="#1c4a02"/>
<rect x="1475" y="355" width="2" height="26" fill="#1c4a02"/>
<rect x="1471" y="361" width="10" height="16" fill="#1c4a02"/>
<rect x="1473" y="363" width="6" height="12" fill="url(#gR)"/>
<rect x="1487" y="333" width="2" height="30" fill="#1c4a02"/>
<rect x="1483" y="341" width="10" height="22" fill="#1c4a02"/>
<rect x="1485" y="343" width="6" height="18" fill="url(#gG)"/>
<rect x="1501" y="335" width="2" height="28" fill="#1c4a02"/>
<rect x="1497" y="339" width="10" height="22" fill="#1c4a02"/>
<rect x="1499" y="341" width="6" height="18" fill="url(#gR)"/>
<rect x="1513" y="347" width="2" height="40" fill="#1c4a02"/>
<rect x="1509" y="363" width="10" height="10" fill="#1c4a02"/>
<rect x="1511" y="365" width="6" height="6" fill="url(#gR)"/>
<rect x="1525" y="377" width="2" height="44" fill="#1c4a02"/>
<rect x="1521" y="379" width="10" height="40" fill="#1c4a02"/>
<rect x="1523" y="381" width="6" height="36" fill="url(#gR)"/>
<rect x="1539" y="389" width="2" height="26" fill="#1c4a02"/>
<rect x="1535" y="403" width="10" height="6" fill="#1c4a02"/>
<rect x="1537" y="405" width="6" height="2" fill="url(#gG)"/>
<rect x="1551" y="377" width="2" height="20" fill="#1c4a02"/>
<rect x="1547" y="383" width="10" height="8" fill="#1c4a02"/>
<rect x="1549" y="385" width="6" height="4" fill="url(#gR)"/>
<rect x="1565" y="381" width="2" height="20" fill="#1c4a02"/>
<rect x="1561" y="381" width="10" height="12" fill="#1c4a02"/>
<rect x="1563" y="383" width="6" height="8" fill="url(#gG)"/>
<rect x="1577" y="377" width="2" height="16" fill="#1c4a02"/>
<rect x="1573" y="381" width="10" height="4" fill="#2a5a12"/>
<rect x="1591" y="377" width="2" height="40" fill="#1c4a02"/>
<rect x="1587" y="377" width="10" height="26" fill="#1c4a02"/>
<rect x="1589" y="379" width="6" height="22" fill="url(#gR)"/>
<rect x="1603" y="401" width="2" height="28" fill="#1c4a02"/>
<rect x="1599" y="413" width="10" height="6" fill="#1c4a02"/>
<rect x="1601" y="415" width="6" height="2" fill="url(#gR)"/>
<rect x="1617" y="409" width="2" height="8" fill="#1c4a02"/>
<rect x="1613" y="413" width="10" height="2" fill="#1c4a02"/>
<rect x="1629" y="413" width="2" height="20" fill="#1c4a02"/>
<rect x="1625" y="415" width="10" height="10" fill="#1c4a02"/>
<rect x="1627" y="417" width="6" height="6" fill="url(#gR)"/>
<rect x="1643" y="425" width="2" height="26" fill="#1c4a02"/>
<rect x="1639" y="425" width="10" height="24" fill="#1c4a02"/>
<rect x="1641" y="427" width="6" height="20" fill="url(#gR)"/>
<rect x="1655" y="435" width="2" height="22" fill="#1c4a02"/>
<rect x="1651" y="443" width="10" height="14" fill="#1c4a02"/>
<rect x="1653" y="445" width="6" height="10" fill="url(#gR)"/>
<polyline points="-2,604 0,603.4 28,594.6 54,586.1 80,573.9 94,570.6 118,557.6 144,545.8 158,542 170,536 196,523.6 222,508.2 248,496 260,488.2 274,482 286,474.5 300,468.3 312,458.5 326,451.9 338,444.6 352,436.9 364,428.6 378,418.7 390.7,409.7 401,404 417,393.6 428,388.8 442.3,381.8 456,378.7 494,367.4 506,361.8 520,357.4 532,350.5 546,343.9 558,339.8 570,339.8 584,337.9 596,337.4 610,335.9 622,335.9 636,336.1 648,337.4 662,336.4 674,335.9 688,332.2 700,329.9 714,328.4 738,324.6 764,324.2 778,324.6 790,328 806,334.5 830,347.7 856,358 881,370.2 895,374 907,376.8 945,388 958,394 971,395.9 984,399.9 1010,404.3 1020,404.8 1048,409.5 1074,416.1 1100,415.5 1126,412.3 1140,408.2 1166,403.9 1192,396.7 1230,390.2 1268,390.2 1294,393.9 1308,393.9 1320,392.2 1358,392.2 1384,396.4 1450,396.4 1462,394.5 1476,394.1 1502,389.8 1526,390.2 1540,392.2 1552,392 1566,390.2 1578,390.2 1592,392.2 1618,392.2 1656.5,398.2" fill="none" stroke="#5c5cff" stroke-width="2" stroke-linejoin="round" stroke-opacity="0.95"/>
<polyline points="-2,619.4 0,619 28,614.3 43,613.7 54,611.8 68,609.6 80,610.2 94,608.3 118,604 144,599.6 170,595.9 196,592.1 210,588.6 222,586.5 248,582.4 260,578.6 274,576.8 287,574.5 300,570.6 312,567.9 326,564.5 338,562.4 364,554.2 378,552.4 404,544.3 416,542.4 429,538.3 442,536.4 454,532.1 468,530.2 494,526.5 506,522.7 520,520.4 546,512.4 558,510.1 584,506.4 610,502.2 622,502.4 636,500.4 674,494.4 700,490.6 778.5,478.2 841.4,478.2 850.8,480.1 1011.3,480.1 1024.4,478.4 1100.7,478.6 1126,474.3 1140,474.3 1166,470.5 1179.5,470.5 1205,465.8 1217,465.8 1255.5,461.7 1294,462.1 1307,460.2 1320,460.2 1335,457.7 1380,457.7 1384,458.3 1398.5,456.4 1436,456.4 1450,454.5 1462,454.2 1476,452.3 1488,452.3 1502,450.4 1526,450.4 1540,448.5 1578,448.5 1592,446.5 1656.5,446.5" fill="none" stroke="#a00818" stroke-width="2" stroke-linejoin="round"/>
<polyline points="-2,512.6 16,512.6 28,480.1 42,470.3 68,470.3 94,414 118,414 132,390.1 170,390.1 184,376.2 196,376.2 210,349.6 222,318.6 260,318.6 274,295.9 300,295.9 312,265.1 326,214.4 364,214.4 378,190 404,190 416,178.2 428,176 674,176 688,180.2 700,186.7 790,186.7 804,190.4 816,202.8 830,238.3 972,238.3 984,246.3 998,278.2 1010,292.9 1024,304.2 1036,308.2 1048,377.6 1062,422.2 1100,422.2 1114,390.7 1126,356 1140,349.8 1152,328.4 1166,328.4 1178,312.3 1192,309.7 1204,296.5 1450,296.5 1462,312.3 1476,322.4 1488,322.4 1502,326.2 1604,326.2 1618,334.4 1656.5,334.4" fill="none" stroke="#000" stroke-width="2" stroke-linejoin="round"/>
<rect x="299" y="147" width="2" height="615" fill="#ec3c46" fill-opacity="0.62"/>
<circle cx="300" cy="276.4" r="6" fill="#fff" stroke="#000" stroke-width="2"/>
<circle cx="300" cy="296.3" r="6" fill="#fff" stroke="#000" stroke-width="2"/>
<circle cx="300" cy="468.3" r="6" fill="#fff" stroke="#6060ff" stroke-width="2"/>
<circle cx="300" cy="570.6" r="6" fill="#fff" stroke="#a00818" stroke-width="2"/>
</g>
<g clip-path="url(#cInd)">
<polygon points="-2,868 -2,912 2,916.5 16,884.4 28,886.4 42,886.4 54,880.2 68,873.1 80,866.4 94,866.4 106,880.2 118,860.6 132,872.1 144,868.9 158,872.1 170,866.4 184,875.9 196,860.6 210,855.9 222,858.4 236,866.4 248,862.1 260,854.4 274,860.6 286,858.4 300,848.1 312,844.3 326,850.3 338,850.3 352,842.5 364,838.2 378,836.2 390,836.2 404,838.5 416,834.2 428,878 442,900.9 454,915.2 468,924.2 480,906.4 494,894.7 506,894.7 520,884.7 532,874.6 546,874.6 558,910.2 570,936.5 584,942.2 596,942.2 610,938.2 622,948.2 636,948.2 648,959.8 662,930.7 674,922.2 688,912.7 700,908.4 714,902.7 726,916.5 738,936 752,930.2 764,932.2 778,944.5 790,974 804,987.8 816,982.3 830,987.8 842,974.5 856,978.5 868,974.5 880,979.8 894,958.3 906,942.7 920,950 932,954.2 946,957.6 958,962.3 972,951 984,940.2 998,944.5 1010,936.5 1024,932.2 1036,936.5 1048,932.2 1062,936.5 1074,950.3 1088,922.7 1100,903.9 1114,888.4 1126,890.4 1140,886.4 1152,888.4 1166,878.4 1178,874.4 1192,882.2 1204,882.2 1216,898.4 1230,896.4 1242,916.5 1256,936.5 1268,934.5 1282,942.2 1294,942.2 1308,922.7 1320,912.2 1334,908.4 1346,926.5 1358,935.2 1372,944.2 1384,946.2 1398,946.2 1410,920.2 1424,916.5 1436,920.2 1450,908.4 1462,906.4 1476,910.2 1488,892.7 1502,903.9 1514,914.7 1526,940.2 1540,930.2 1552,926.5 1566,918.2 1578,920.2 1592,931.5 1604,940.2 1618,938.2 1630,944.2 1644,958.3 1656,960.3 1656,868" fill="url(#ob)" clip-path="url(#cOb)"/>
<polygon points="-2,978 -2,912 2,916.5 16,884.4 28,886.4 42,886.4 54,880.2 68,873.1 80,866.4 94,866.4 106,880.2 118,860.6 132,872.1 144,868.9 158,872.1 170,866.4 184,875.9 196,860.6 210,855.9 222,858.4 236,866.4 248,862.1 260,854.4 274,860.6 286,858.4 300,848.1 312,844.3 326,850.3 338,850.3 352,842.5 364,838.2 378,836.2 390,836.2 404,838.5 416,834.2 428,878 442,900.9 454,915.2 468,924.2 480,906.4 494,894.7 506,894.7 520,884.7 532,874.6 546,874.6 558,910.2 570,936.5 584,942.2 596,942.2 610,938.2 622,948.2 636,948.2 648,959.8 662,930.7 674,922.2 688,912.7 700,908.4 714,902.7 726,916.5 738,936 752,930.2 764,932.2 778,944.5 790,974 804,987.8 816,982.3 830,987.8 842,974.5 856,978.5 868,974.5 880,979.8 894,958.3 906,942.7 920,950 932,954.2 946,957.6 958,962.3 972,951 984,940.2 998,944.5 1010,936.5 1024,932.2 1036,936.5 1048,932.2 1062,936.5 1074,950.3 1088,922.7 1100,903.9 1114,888.4 1126,890.4 1140,886.4 1152,888.4 1166,878.4 1178,874.4 1192,882.2 1204,882.2 1216,898.4 1230,896.4 1242,916.5 1256,936.5 1268,934.5 1282,942.2 1294,942.2 1308,922.7 1320,912.2 1334,908.4 1346,926.5 1358,935.2 1372,944.2 1384,946.2 1398,946.2 1410,920.2 1424,916.5 1436,920.2 1450,908.4 1462,906.4 1476,910.2 1488,892.7 1502,903.9 1514,914.7 1526,940.2 1540,930.2 1552,926.5 1566,918.2 1578,920.2 1592,931.5 1604,940.2 1618,938.2 1630,944.2 1644,958.3 1656,960.3 1656,978" fill="url(#os)" clip-path="url(#cOs)"/>
<rect x="0" y="867" width="1918" height="2" fill="#2323d2"/>
<rect x="0" y="977" width="1918" height="2" fill="#2323d2"/>
<polyline points="-2,912 2,916.5 16,884.4 28,886.4 42,886.4 54,880.2 68,873.1 80,866.4 94,866.4 106,880.2 118,860.6 132,872.1 144,868.9 158,872.1 170,866.4 184,875.9 196,860.6 210,855.9 222,858.4 236,866.4 248,862.1 260,854.4 274,860.6 286,858.4 300,848.1 312,844.3 326,850.3 338,850.3 352,842.5 364,838.2 378,836.2 390,836.2 404,838.5 416,834.2 428,878 442,900.9 454,915.2 468,924.2 480,906.4 494,894.7 506,894.7 520,884.7 532,874.6 546,874.6 558,910.2 570,936.5 584,942.2 596,942.2 610,938.2 622,948.2 636,948.2 648,959.8 662,930.7 674,922.2 688,912.7 700,908.4 714,902.7 726,916.5 738,936 752,930.2 764,932.2 778,944.5 790,974 804,987.8 816,982.3 830,987.8 842,974.5 856,978.5 868,974.5 880,979.8 894,958.3 906,942.7 920,950 932,954.2 946,957.6 958,962.3 972,951 984,940.2 998,944.5 1010,936.5 1024,932.2 1036,936.5 1048,932.2 1062,936.5 1074,950.3 1088,922.7 1100,903.9 1114,888.4 1126,890.4 1140,886.4 1152,888.4 1166,878.4 1178,874.4 1192,882.2 1204,882.2 1216,898.4 1230,896.4 1242,916.5 1256,936.5 1268,934.5 1282,942.2 1294,942.2 1308,922.7 1320,912.2 1334,908.4 1346,926.5 1358,935.2 1372,944.2 1384,946.2 1398,946.2 1410,920.2 1424,916.5 1436,920.2 1450,908.4 1462,906.4 1476,910.2 1488,892.7 1502,903.9 1514,914.7 1526,940.2 1540,930.2 1552,926.5 1566,918.2 1578,920.2 1592,931.5 1604,940.2 1618,938.2 1630,944.2 1644,958.3 1656,960.3" fill="none" stroke="#000" stroke-width="2" stroke-linejoin="round"/>
<rect x="299" y="769" width="2" height="307" fill="#ec3c46" fill-opacity="0.62"/>
<circle cx="300" cy="848.3" r="6" fill="#fff" stroke="#000" stroke-width="2"/>
</g>
<g clip-path="url(#cVol)">
<rect x="-5" y="1171" width="14" height="27" fill="#a32828"/>
<rect x="-5" y="1171" width="14" height="1" fill="#971a1a"/>
<rect x="-5" y="1171" width="1" height="27" fill="#971a1a"/>
<rect x="-1" y="1175" width="6" height="23" fill="url(#vR)"/>
<rect x="9" y="1117" width="14" height="81" fill="#159415"/>
<rect x="9" y="1117" width="14" height="1" fill="#0d8a0d"/>
<rect x="9" y="1117" width="1" height="54" fill="#0d8a0d"/>
<rect x="22" y="1117" width="1" height="26" fill="#0d8a0d"/>
<rect x="13" y="1121" width="6" height="77" fill="url(#vG)"/>
<rect x="21" y="1143" width="14" height="55" fill="#a32828"/>
<rect x="21" y="1143" width="14" height="1" fill="#971a1a"/>
<rect x="34" y="1143" width="1" height="14" fill="#971a1a"/>
<rect x="25" y="1147" width="6" height="51" fill="url(#vR)"/>
<rect x="35" y="1157" width="14" height="41" fill="#159415"/>
<rect x="35" y="1157" width="14" height="1" fill="#0d8a0d"/>
<rect x="48" y="1157" width="1" height="2" fill="#0d8a0d"/>
<rect x="39" y="1161" width="6" height="37" fill="url(#vG)"/>
<rect x="47" y="1159" width="14" height="39" fill="#159415"/>
<rect x="47" y="1159" width="14" height="1" fill="#0d8a0d"/>
<rect x="51" y="1163" width="6" height="35" fill="url(#vG)"/>
<rect x="61" y="1153" width="14" height="45" fill="#159415"/>
<rect x="61" y="1153" width="14" height="1" fill="#0d8a0d"/>
<rect x="61" y="1153" width="1" height="6" fill="#0d8a0d"/>
<rect x="65" y="1157" width="6" height="41" fill="url(#vG)"/>
<rect x="73" y="1149" width="14" height="49" fill="#159415"/>
<rect x="73" y="1149" width="14" height="1" fill="#0d8a0d"/>
<rect x="73" y="1149" width="1" height="4" fill="#0d8a0d"/>
<rect x="86" y="1149" width="1" height="8" fill="#0d8a0d"/>
<rect x="77" y="1153" width="6" height="45" fill="url(#vG)"/>
<rect x="87" y="1157" width="14" height="41" fill="#159415"/>
<rect x="87" y="1157" width="14" height="1" fill="#0d8a0d"/>
<rect x="100" y="1157" width="1" height="8" fill="#0d8a0d"/>
<rect x="91" y="1161" width="6" height="37" fill="url(#vG)"/>
<rect x="99" y="1165" width="14" height="33" fill="#a32828"/>
<rect x="99" y="1165" width="14" height="1" fill="#971a1a"/>
<rect x="103" y="1169" width="6" height="29" fill="url(#vR)"/>
<rect x="111" y="1141" width="14" height="57" fill="#159415"/>
<rect x="111" y="1141" width="14" height="1" fill="#0d8a0d"/>
<rect x="111" y="1141" width="1" height="24" fill="#0d8a0d"/>
<rect x="124" y="1141" width="1" height="22" fill="#0d8a0d"/>
<rect x="115" y="1145" width="6" height="53" fill="url(#vG)"/>
<rect x="125" y="1163" width="14" height="35" fill="#a32828"/>
<rect x="125" y="1163" width="14" height="1" fill="#971a1a"/>
<rect x="138" y="1163" width="1" height="4" fill="#971a1a"/>
<rect x="129" y="1167" width="6" height="31" fill="url(#vR)"/>
<rect x="137" y="1167" width="14" height="31" fill="#159415"/>
<rect x="137" y="1167" width="14" height="1" fill="#0d8a0d"/>
<rect x="141" y="1171" width="6" height="27" fill="url(#vG)"/>
<rect x="151" y="1167" width="14" height="31" fill="#a32828"/>
<rect x="151" y="1167" width="14" height="1" fill="#971a1a"/>
<rect x="155" y="1171" width="6" height="27" fill="url(#vR)"/>
<rect x="163" y="1155" width="14" height="43" fill="#159415"/>
<rect x="163" y="1155" width="14" height="1" fill="#0d8a0d"/>
<rect x="163" y="1155" width="1" height="12" fill="#0d8a0d"/>
<rect x="176" y="1155" width="1" height="16" fill="#0d8a0d"/>
<rect x="167" y="1159" width="6" height="39" fill="url(#vG)"/>
<rect x="177" y="1171" width="14" height="27" fill="#a32828"/>
<rect x="177" y="1171" width="14" height="1" fill="#971a1a"/>
<rect x="181" y="1175" width="6" height="23" fill="url(#vR)"/>
<rect x="189" y="1157" width="14" height="41" fill="#159415"/>
<rect x="189" y="1157" width="14" height="1" fill="#0d8a0d"/>
<rect x="189" y="1157" width="1" height="14" fill="#0d8a0d"/>
<rect x="193" y="1161" width="6" height="37" fill="url(#vG)"/>
<rect x="203" y="1157" width="14" height="41" fill="#159415"/>
<rect x="203" y="1157" width="14" height="1" fill="#0d8a0d"/>
<rect x="216" y="1157" width="1" height="24" fill="#0d8a0d"/>
<rect x="207" y="1161" width="6" height="37" fill="url(#vG)"/>
<rect x="215" y="1181" width="14" height="17" fill="#a32828"/>
<rect x="215" y="1181" width="14" height="1" fill="#971a1a"/>
<rect x="219" y="1185" width="6" height="13" fill="url(#vR)"/>
<rect x="229" y="1181" width="14" height="17" fill="#a32828"/>
<rect x="229" y="1181" width="14" height="1" fill="#971a1a"/>
<rect x="233" y="1185" width="6" height="13" fill="url(#vR)"/>
<rect x="241" y="1181" width="14" height="17" fill="#159415"/>
<rect x="241" y="1181" width="14" height="1" fill="#0d8a0d"/>
<rect x="245" y="1185" width="6" height="13" fill="url(#vG)"/>
<rect x="253" y="1171" width="14" height="27" fill="#159415"/>
<rect x="253" y="1171" width="14" height="1" fill="#0d8a0d"/>
<rect x="253" y="1171" width="1" height="10" fill="#0d8a0d"/>
<rect x="266" y="1171" width="1" height="10" fill="#0d8a0d"/>
<rect x="257" y="1175" width="6" height="23" fill="url(#vG)"/>
<rect x="267" y="1181" width="14" height="17" fill="#a32828"/>
<rect x="267" y="1181" width="14" height="1" fill="#971a1a"/>
<rect x="280" y="1181" width="1" height="4" fill="#971a1a"/>
<rect x="271" y="1185" width="6" height="13" fill="url(#vR)"/>
<rect x="279" y="1185" width="14" height="13" fill="#159415"/>
<rect x="279" y="1185" width="14" height="1" fill="#0d8a0d"/>
<rect x="283" y="1189" width="6" height="9" fill="url(#vG)"/>
<rect x="293" y="1179" width="14" height="19" fill="#159415"/>
<rect x="293" y="1179" width="14" height="1" fill="#0d8a0d"/>
<rect x="293" y="1179" width="1" height="6" fill="#0d8a0d"/>
<rect x="297" y="1183" width="6" height="15" fill="url(#vG)"/>
<rect x="305" y="1147" width="14" height="51" fill="#159415"/>
<rect x="305" y="1147" width="14" height="1" fill="#0d8a0d"/>
<rect x="305" y="1147" width="1" height="32" fill="#0d8a0d"/>
<rect x="318" y="1147" width="1" height="12" fill="#0d8a0d"/>
<rect x="309" y="1151" width="6" height="47" fill="url(#vG)"/>
<rect x="319" y="1159" width="14" height="39" fill="#a32828"/>
<rect x="319" y="1159" width="14" height="1" fill="#971a1a"/>
<rect x="332" y="1159" width="1" height="16" fill="#971a1a"/>
<rect x="323" y="1163" width="6" height="35" fill="url(#vR)"/>
<rect x="331" y="1175" width="14" height="23" fill="#159415"/>
<rect x="331" y="1175" width="14" height="1" fill="#0d8a0d"/>
<rect x="335" y="1179" width="6" height="19" fill="url(#vG)"/>
<rect x="345" y="1171" width="14" height="27" fill="#159415"/>
<rect x="345" y="1171" width="14" height="1" fill="#0d8a0d"/>
<rect x="345" y="1171" width="1" height="4" fill="#0d8a0d"/>
<rect x="349" y="1175" width="6" height="23" fill="url(#vG)"/>
<rect x="357" y="1145" width="14" height="53" fill="#159415"/>
<rect x="357" y="1145" width="14" height="1" fill="#0d8a0d"/>
<rect x="357" y="1145" width="1" height="26" fill="#0d8a0d"/>
<rect x="370" y="1145" width="1" height="24" fill="#0d8a0d"/>
<rect x="361" y="1149" width="6" height="49" fill="url(#vG)"/>
<rect x="371" y="1169" width="14" height="29" fill="#159415"/>
<rect x="371" y="1169" width="14" height="1" fill="#0d8a0d"/>
<rect x="384" y="1169" width="1" height="4" fill="#0d8a0d"/>
<rect x="375" y="1173" width="6" height="25" fill="url(#vG)"/>
<rect x="383" y="1173" width="14" height="25" fill="#159415"/>
<rect x="383" y="1173" width="14" height="1" fill="#0d8a0d"/>
<rect x="387" y="1177" width="6" height="21" fill="url(#vG)"/>
<rect x="397" y="1161" width="14" height="37" fill="#a32828"/>
<rect x="397" y="1161" width="14" height="1" fill="#971a1a"/>
<rect x="397" y="1161" width="1" height="12" fill="#971a1a"/>
<rect x="410" y="1161" width="1" height="8" fill="#971a1a"/>
<rect x="401" y="1165" width="6" height="33" fill="url(#vR)"/>
<rect x="409" y="1169" width="14" height="29" fill="#159415"/>
<rect x="409" y="1169" width="14" height="1" fill="#0d8a0d"/>
<rect x="413" y="1173" width="6" height="25" fill="url(#vG)"/>
<rect x="421" y="1157" width="14" height="41" fill="#a32828"/>
<rect x="421" y="1157" width="14" height="1" fill="#971a1a"/>
<rect x="421" y="1157" width="1" height="12" fill="#971a1a"/>
<rect x="425" y="1161" width="6" height="37" fill="url(#vR)"/>
<rect x="435" y="1153" width="14" height="45" fill="#a32828"/>
<rect x="435" y="1153" width="14" height="1" fill="#971a1a"/>
<rect x="435" y="1153" width="1" height="4" fill="#971a1a"/>
<rect x="439" y="1157" width="6" height="41" fill="url(#vR)"/>
<rect x="447" y="1153" width="14" height="45" fill="#a32828"/>
<rect x="447" y="1153" width="14" height="1" fill="#971a1a"/>
<rect x="460" y="1153" width="1" height="8" fill="#971a1a"/>
<rect x="451" y="1157" width="6" height="41" fill="url(#vR)"/>
<rect x="461" y="1161" width="14" height="37" fill="#a32828"/>
<rect x="461" y="1161" width="14" height="1" fill="#971a1a"/>
<rect x="465" y="1165" width="6" height="33" fill="url(#vR)"/>
<rect x="473" y="1155" width="14" height="43" fill="#159415"/>
<rect x="473" y="1155" width="14" height="1" fill="#0d8a0d"/>
<rect x="473" y="1155" width="1" height="6" fill="#0d8a0d"/>
<rect x="486" y="1155" width="1" height="4" fill="#0d8a0d"/>
<rect x="477" y="1159" width="6" height="39" fill="url(#vG)"/>
<rect x="487" y="1159" width="14" height="39" fill="#159415"/>
<rect x="487" y="1159" width="14" height="1" fill="#0d8a0d"/>
<rect x="500" y="1159" width="1" height="10" fill="#0d8a0d"/>
<rect x="491" y="1163" width="6" height="35" fill="url(#vG)"/>
<rect x="499" y="1169" width="14" height="29" fill="#a32828"/>
<rect x="499" y="1169" width="14" height="1" fill="#971a1a"/>
<rect x="503" y="1173" width="6" height="25" fill="url(#vR)"/>
<rect x="513" y="1167" width="14" height="31" fill="#159415"/>
<rect x="513" y="1167" width="14" height="1" fill="#0d8a0d"/>
<rect x="513" y="1167" width="1" height="2" fill="#0d8a0d"/>
<rect x="517" y="1171" width="6" height="27" fill="url(#vG)"/>
<rect x="525" y="1161" width="14" height="37" fill="#159415"/>
<rect x="525" y="1161" width="14" height="1" fill="#0d8a0d"/>
<rect x="525" y="1161" width="1" height="6" fill="#0d8a0d"/>
<rect x="538" y="1161" width="1" height="4" fill="#0d8a0d"/>
<rect x="529" y="1165" width="6" height="33" fill="url(#vG)"/>
<rect x="539" y="1165" width="14" height="33" fill="#a32828"/>
<rect x="539" y="1165" width="14" height="1" fill="#971a1a"/>
<rect x="543" y="1169" width="6" height="29" fill="url(#vR)"/>
<rect x="551" y="1155" width="14" height="43" fill="#a32828"/>
<rect x="551" y="1155" width="14" height="1" fill="#971a1a"/>
<rect x="551" y="1155" width="1" height="10" fill="#971a1a"/>
<rect x="555" y="1159" width="6" height="39" fill="url(#vR)"/>
<rect x="563" y="1143" width="14" height="55" fill="#a32828"/>
<rect x="563" y="1143" width="14" height="1" fill="#971a1a"/>
<rect x="563" y="1143" width="1" height="12" fill="#971a1a"/>
<rect x="576" y="1143" width="1" height="26" fill="#971a1a"/>
<rect x="567" y="1147" width="6" height="51" fill="url(#vR)"/>
<rect x="577" y="1169" width="14" height="29" fill="#a32828"/>
<rect x="577" y="1169" width="14" height="1" fill="#971a1a"/>
<rect x="581" y="1173" width="6" height="25" fill="url(#vR)"/>
<rect x="589" y="1157" width="14" height="41" fill="#159415"/>
<rect x="589" y="1157" width="14" height="1" fill="#0d8a0d"/>
<rect x="589" y="1157" width="1" height="12" fill="#0d8a0d"/>
<rect x="602" y="1157" width="1" height="20" fill="#0d8a0d"/>
<rect x="593" y="1161" width="6" height="37" fill="url(#vG)"/>
<rect x="603" y="1177" width="14" height="21" fill="#159415"/>
<rect x="603" y="1177" width="14" height="1" fill="#0d8a0d"/>
<rect x="607" y="1181" width="6" height="17" fill="url(#vG)"/>
<rect x="615" y="1167" width="14" height="31" fill="#a32828"/>
<rect x="615" y="1167" width="14" height="1" fill="#971a1a"/>
<rect x="615" y="1167" width="1" height="10" fill="#971a1a"/>
<rect x="628" y="1167" width="1" height="10" fill="#971a1a"/>
<rect x="619" y="1171" width="6" height="27" fill="url(#vR)"/>
<rect x="629" y="1177" width="14" height="21" fill="#a32828"/>
<rect x="629" y="1177" width="14" height="1" fill="#971a1a"/>
<rect x="633" y="1181" width="6" height="17" fill="url(#vR)"/>
<rect x="641" y="1155" width="14" height="43" fill="#a32828"/>
<rect x="641" y="1155" width="14" height="1" fill="#971a1a"/>
<rect x="641" y="1155" width="1" height="22" fill="#971a1a"/>
<rect x="654" y="1155" width="1" height="6" fill="#971a1a"/>
<rect x="645" y="1159" width="6" height="39" fill="url(#vR)"/>
<rect x="655" y="1161" width="14" height="37" fill="#159415"/>
<rect x="655" y="1161" width="14" height="1" fill="#0d8a0d"/>
<rect x="659" y="1165" width="6" height="33" fill="url(#vG)"/>
<rect x="667" y="1153" width="14" height="45" fill="#159415"/>
<rect x="667" y="1153" width="14" height="1" fill="#0d8a0d"/>
<rect x="667" y="1153" width="1" height="8" fill="#0d8a0d"/>
<rect x="680" y="1153" width="1" height="10" fill="#0d8a0d"/>
<rect x="671" y="1157" width="6" height="41" fill="url(#vG)"/>
<rect x="681" y="1163" width="14" height="35" fill="#159415"/>
<rect x="681" y="1163" width="14" height="1" fill="#0d8a0d"/>
<rect x="694" y="1163" width="1" height="12" fill="#0d8a0d"/>
<rect x="685" y="1167" width="6" height="31" fill="url(#vG)"/>
<rect x="693" y="1175" width="14" height="23" fill="#159415"/>
<rect x="693" y="1175" width="14" height="1" fill="#0d8a0d"/>
<rect x="697" y="1179" width="6" height="19" fill="url(#vG)"/>
<rect x="707" y="1173" width="14" height="25" fill="#159415"/>
<rect x="707" y="1173" width="14" height="1" fill="#0d8a0d"/>
<rect x="707" y="1173" width="1" height="2" fill="#0d8a0d"/>
<rect x="720" y="1173" width="1" height="4" fill="#0d8a0d"/>
<rect x="711" y="1177" width="6" height="21" fill="url(#vG)"/>
<rect x="719" y="1177" width="14" height="21" fill="#a32828"/>
<rect x="719" y="1177" width="14" height="1" fill="#971a1a"/>
<rect x="723" y="1181" width="6" height="17" fill="url(#vR)"/>
<rect x="731" y="1165" width="14" height="33" fill="#a32828"/>
<rect x="731" y="1165" width="14" height="1" fill="#971a1a"/>
<rect x="731" y="1165" width="1" height="12" fill="#971a1a"/>
<rect x="744" y="1165" width="1" height="10" fill="#971a1a"/>
<rect x="735" y="1169" width="6" height="29" fill="url(#vR)"/>
<rect x="745" y="1175" width="14" height="23" fill="#159415"/>
<rect x="745" y="1175" width="14" height="1" fill="#0d8a0d"/>
<rect x="749" y="1179" width="6" height="19" fill="url(#vG)"/>
<rect x="757" y="1171" width="14" height="27" fill="#a32828"/>
<rect x="757" y="1171" width="14" height="1" fill="#971a1a"/>
<rect x="757" y="1171" width="1" height="4" fill="#971a1a"/>
<rect x="761" y="1175" width="6" height="23" fill="url(#vR)"/>
<rect x="771" y="1153" width="14" height="45" fill="#a32828"/>
<rect x="771" y="1153" width="14" height="1" fill="#971a1a"/>
<rect x="771" y="1153" width="1" height="18" fill="#971a1a"/>
<rect x="775" y="1157" width="6" height="41" fill="url(#vR)"/>
<rect x="783" y="1089" width="14" height="109" fill="#a32828"/>
<rect x="783" y="1089" width="14" height="1" fill="#971a1a"/>
<rect x="783" y="1089" width="1" height="64" fill="#971a1a"/>
<rect x="787" y="1093" width="6" height="105" fill="url(#vR)"/>
<rect x="797" y="1087" width="14" height="111" fill="#a32828"/>
<rect x="797" y="1087" width="14" height="1" fill="#971a1a"/>
<rect x="797" y="1087" width="1" height="2" fill="#971a1a"/>
<rect x="810" y="1087" width="1" height="40" fill="#971a1a"/>
<rect x="801" y="1091" width="6" height="107" fill="url(#vR)"/>
<rect x="809" y="1127" width="14" height="71" fill="#159415"/>
<rect x="809" y="1127" width="14" height="1" fill="#0d8a0d"/>
<rect x="822" y="1127" width="1" height="12" fill="#0d8a0d"/>
<rect x="813" y="1131" width="6" height="67" fill="url(#vG)"/>
<rect x="823" y="1139" width="14" height="59" fill="#a32828"/>
<rect x="823" y="1139" width="14" height="1" fill="#971a1a"/>
<rect x="836" y="1139" width="1" height="10" fill="#971a1a"/>
<rect x="827" y="1143" width="6" height="55" fill="url(#vR)"/>
<rect x="835" y="1149" width="14" height="49" fill="#159415"/>
<rect x="835" y="1149" width="14" height="1" fill="#0d8a0d"/>
<rect x="848" y="1149" width="1" height="6" fill="#0d8a0d"/>
<rect x="839" y="1153" width="6" height="45" fill="url(#vG)"/>
<rect x="849" y="1155" width="14" height="43" fill="#a32828"/>
<rect x="849" y="1155" width="14" height="1" fill="#971a1a"/>
<rect x="862" y="1155" width="1" height="16" fill="#971a1a"/>
<rect x="853" y="1159" width="6" height="39" fill="url(#vR)"/>
<rect x="861" y="1171" width="14" height="27" fill="#159415"/>
<rect x="861" y="1171" width="14" height="1" fill="#0d8a0d"/>
<rect x="865" y="1175" width="6" height="23" fill="url(#vG)"/>
<rect x="873" y="1167" width="14" height="31" fill="#a32828"/>
<rect x="873" y="1167" width="14" height="1" fill="#971a1a"/>
<rect x="873" y="1167" width="1" height="4" fill="#971a1a"/>
<rect x="877" y="1171" width="6" height="27" fill="url(#vR)"/>
<rect x="887" y="1151" width="14" height="47" fill="#159415"/>
<rect x="887" y="1151" width="14" height="1" fill="#0d8a0d"/>
<rect x="887" y="1151" width="1" height="16" fill="#0d8a0d"/>
<rect x="891" y="1155" width="6" height="43" fill="url(#vG)"/>
<rect x="899" y="1139" width="14" height="59" fill="#159415"/>
<rect x="899" y="1139" width="14" height="1" fill="#0d8a0d"/>
<rect x="899" y="1139" width="1" height="12" fill="#0d8a0d"/>
<rect x="912" y="1139" width="1" height="4" fill="#0d8a0d"/>
<rect x="903" y="1143" width="6" height="55" fill="url(#vG)"/>
<rect x="913" y="1143" width="14" height="55" fill="#a32828"/>
<rect x="913" y="1143" width="14" height="1" fill="#971a1a"/>
<rect x="926" y="1143" width="1" height="24" fill="#971a1a"/>
<rect x="917" y="1147" width="6" height="51" fill="url(#vR)"/>
<rect x="925" y="1167" width="14" height="31" fill="#a32828"/>
<rect x="925" y="1167" width="14" height="1" fill="#971a1a"/>
<rect x="929" y="1171" width="6" height="27" fill="url(#vR)"/>
<rect x="939" y="1167" width="14" height="31" fill="#a32828"/>
<rect x="939" y="1167" width="14" height="1" fill="#971a1a"/>
<rect x="943" y="1171" width="6" height="27" fill="url(#vR)"/>
<rect x="951" y="1167" width="14" height="31" fill="#a32828"/>
<rect x="951" y="1167" width="14" height="1" fill="#971a1a"/>
<rect x="964" y="1167" width="1" height="10" fill="#971a1a"/>
<rect x="955" y="1171" width="6" height="27" fill="url(#vR)"/>
<rect x="965" y="1177" width="14" height="21" fill="#159415"/>
<rect x="965" y="1177" width="14" height="1" fill="#0d8a0d"/>
<rect x="969" y="1181" width="6" height="17" fill="url(#vG)"/>
<rect x="977" y="1163" width="14" height="35" fill="#159415"/>
<rect x="977" y="1163" width="14" height="1" fill="#0d8a0d"/>
<rect x="977" y="1163" width="1" height="14" fill="#0d8a0d"/>
<rect x="990" y="1163" width="1" height="10" fill="#0d8a0d"/>
<rect x="981" y="1167" width="6" height="31" fill="url(#vG)"/>
<rect x="991" y="1173" width="14" height="25" fill="#a32828"/>
<rect x="991" y="1173" width="14" height="1" fill="#971a1a"/>
<rect x="1004" y="1173" width="1" height="4" fill="#971a1a"/>
<rect x="995" y="1177" width="6" height="21" fill="url(#vR)"/>
<rect x="1003" y="1177" width="14" height="21" fill="#159415"/>
<rect x="1003" y="1177" width="14" height="1" fill="#0d8a0d"/>
<rect x="1007" y="1181" width="6" height="17" fill="url(#vG)"/>
<rect x="1017" y="1159" width="14" height="39" fill="#159415"/>
<rect x="1017" y="1159" width="14" height="1" fill="#0d8a0d"/>
<rect x="1017" y="1159" width="1" height="18" fill="#0d8a0d"/>
<rect x="1030" y="1159" width="1" height="2" fill="#0d8a0d"/>
<rect x="1021" y="1163" width="6" height="35" fill="url(#vG)"/>
<rect x="1029" y="1161" width="14" height="37" fill="#a32828"/>
<rect x="1029" y="1161" width="14" height="1" fill="#971a1a"/>
<rect x="1042" y="1161" width="1" height="16" fill="#971a1a"/>
<rect x="1033" y="1165" width="6" height="33" fill="url(#vR)"/>
<rect x="1041" y="1177" width="14" height="21" fill="#159415"/>
<rect x="1041" y="1177" width="14" height="1" fill="#0d8a0d"/>
<rect x="1045" y="1181" width="6" height="17" fill="url(#vG)"/>
<rect x="1055" y="1177" width="14" height="21" fill="#a32828"/>
<rect x="1055" y="1177" width="14" height="1" fill="#971a1a"/>
<rect x="1059" y="1181" width="6" height="17" fill="url(#vR)"/>
<rect x="1067" y="1175" width="14" height="23" fill="#a32828"/>
<rect x="1067" y="1175" width="14" height="1" fill="#971a1a"/>
<rect x="1067" y="1175" width="1" height="2" fill="#971a1a"/>
<rect x="1071" y="1179" width="6" height="19" fill="url(#vR)"/>
<rect x="1081" y="1159" width="14" height="39" fill="#159415"/>
<rect x="1081" y="1159" width="14" height="1" fill="#0d8a0d"/>
<rect x="1081" y="1159" width="1" height="16" fill="#0d8a0d"/>
<rect x="1085" y="1163" width="6" height="35" fill="url(#vG)"/>
<rect x="1093" y="1139" width="14" height="59" fill="#159415"/>
<rect x="1093" y="1139" width="14" height="1" fill="#0d8a0d"/>
<rect x="1093" y="1139" width="1" height="20" fill="#0d8a0d"/>
<rect x="1106" y="1139" width="1" height="16" fill="#0d8a0d"/>
<rect x="1097" y="1143" width="6" height="55" fill="url(#vG)"/>
<rect x="1107" y="1155" width="14" height="43" fill="#159415"/>
<rect x="1107" y="1155" width="14" height="1" fill="#0d8a0d"/>
<rect x="1120" y="1155" width="1" height="10" fill="#0d8a0d"/>
<rect x="1111" y="1159" width="6" height="39" fill="url(#vG)"/>
<rect x="1119" y="1165" width="14" height="33" fill="#a32828"/>
<rect x="1119" y="1165" width="14" height="1" fill="#971a1a"/>
<rect x="1132" y="1165" width="1" height="4" fill="#971a1a"/>
<rect x="1123" y="1169" width="6" height="29" fill="url(#vR)"/>
<rect x="1133" y="1169" width="14" height="29" fill="#159415"/>
<rect x="1133" y="1169" width="14" height="1" fill="#0d8a0d"/>
<rect x="1146" y="1169" width="1" height="6" fill="#0d8a0d"/>
<rect x="1137" y="1173" width="6" height="25" fill="url(#vG)"/>
<rect x="1145" y="1175" width="14" height="23" fill="#a32828"/>
<rect x="1145" y="1175" width="14" height="1" fill="#971a1a"/>
<rect x="1149" y="1179" width="6" height="19" fill="url(#vR)"/>
<rect x="1159" y="1161" width="14" height="37" fill="#159415"/>
<rect x="1159" y="1161" width="14" height="1" fill="#0d8a0d"/>
<rect x="1159" y="1161" width="1" height="14" fill="#0d8a0d"/>
<rect x="1172" y="1161" width="1" height="12" fill="#0d8a0d"/>
<rect x="1163" y="1165" width="6" height="33" fill="url(#vG)"/>
<rect x="1171" y="1173" width="14" height="25" fill="#159415"/>
<rect x="1171" y="1173" width="14" height="1" fill="#0d8a0d"/>
<rect x="1175" y="1177" width="6" height="21" fill="url(#vG)"/>
<rect x="1185" y="1167" width="14" height="31" fill="#a32828"/>
<rect x="1185" y="1167" width="14" height="1" fill="#971a1a"/>
<rect x="1185" y="1167" width="1" height="6" fill="#971a1a"/>
<rect x="1198" y="1167" width="1" height="8" fill="#971a1a"/>
<rect x="1189" y="1171" width="6" height="27" fill="url(#vR)"/>
<rect x="1197" y="1175" width="14" height="23" fill="#159415"/>
<rect x="1197" y="1175" width="14" height="1" fill="#0d8a0d"/>
<rect x="1210" y="1175" width="1" height="2" fill="#0d8a0d"/>
<rect x="1201" y="1179" width="6" height="19" fill="url(#vG)"/>
<rect x="1209" y="1177" width="14" height="21" fill="#a32828"/>
<rect x="1209" y="1177" width="14" height="1" fill="#971a1a"/>
<rect x="1213" y="1181" width="6" height="17" fill="url(#vR)"/>
<rect x="1223" y="1173" width="14" height="25" fill="#159415"/>
<rect x="1223" y="1173" width="14" height="1" fill="#0d8a0d"/>
<rect x="1223" y="1173" width="1" height="4" fill="#0d8a0d"/>
<rect x="1227" y="1177" width="6" height="21" fill="url(#vG)"/>
<rect x="1235" y="1163" width="14" height="35" fill="#a32828"/>
<rect x="1235" y="1163" width="14" height="1" fill="#971a1a"/>
<rect x="1235" y="1163" width="1" height="10" fill="#971a1a"/>
<rect x="1239" y="1167" width="6" height="31" fill="url(#vR)"/>
<rect x="1249" y="1161" width="14" height="37" fill="#a32828"/>
<rect x="1249" y="1161" width="14" height="1" fill="#971a1a"/>
<rect x="1249" y="1161" width="1" height="2" fill="#971a1a"/>
<rect x="1262" y="1161" width="1" height="12" fill="#971a1a"/>
<rect x="1253" y="1165" width="6" height="33" fill="url(#vR)"/>
<rect x="1261" y="1173" width="14" height="25" fill="#159415"/>
<rect x="1261" y="1173" width="14" height="1" fill="#0d8a0d"/>
<rect x="1265" y="1177" width="6" height="21" fill="url(#vG)"/>
<rect x="1275" y="1171" width="14" height="27" fill="#a32828"/>
<rect x="1275" y="1171" width="14" height="1" fill="#971a1a"/>
<rect x="1275" y="1171" width="1" height="2" fill="#971a1a"/>
<rect x="1279" y="1175" width="6" height="23" fill="url(#vR)"/>
<rect x="1287" y="1167" width="14" height="31" fill="#a32828"/>
<rect x="1287" y="1167" width="14" height="1" fill="#971a1a"/>
<rect x="1287" y="1167" width="1" height="4" fill="#971a1a"/>
<rect x="1291" y="1171" width="6" height="27" fill="url(#vR)"/>
<rect x="1301" y="1155" width="14" height="43" fill="#159415"/>
<rect x="1301" y="1155" width="14" height="1" fill="#0d8a0d"/>
<rect x="1301" y="1155" width="1" height="12" fill="#0d8a0d"/>
<rect x="1314" y="1155" width="1" height="16" fill="#0d8a0d"/>
<rect x="1305" y="1159" width="6" height="39" fill="url(#vG)"/>
<rect x="1313" y="1171" width="14" height="27" fill="#159415"/>
<rect x="1313" y="1171" width="14" height="1" fill="#0d8a0d"/>
<rect x="1326" y="1171" width="1" height="6" fill="#0d8a0d"/>
<rect x="1317" y="1175" width="6" height="23" fill="url(#vG)"/>
<rect x="1327" y="1177" width="14" height="21" fill="#159415"/>
<rect x="1327" y="1177" width="14" height="1" fill="#0d8a0d"/>
<rect x="1331" y="1181" width="6" height="17" fill="url(#vG)"/>
<rect x="1339" y="1147" width="14" height="51" fill="#a32828"/>
<rect x="1339" y="1147" width="14" height="1" fill="#971a1a"/>
<rect x="1339" y="1147" width="1" height="30" fill="#971a1a"/>
<rect x="1352" y="1147" width="1" height="26" fill="#971a1a"/>
<rect x="1343" y="1151" width="6" height="47" fill="url(#vR)"/>
<rect x="1351" y="1173" width="14" height="25" fill="#a32828"/>
<rect x="1351" y="1173" width="14" height="1" fill="#971a1a"/>
<rect x="1355" y="1177" width="6" height="21" fill="url(#vR)"/>
<rect x="1365" y="1169" width="14" height="29" fill="#a32828"/>
<rect x="1365" y="1169" width="14" height="1" fill="#971a1a"/>
<rect x="1365" y="1169" width="1" height="4" fill="#971a1a"/>
<rect x="1378" y="1169" width="1" height="2" fill="#971a1a"/>
<rect x="1369" y="1173" width="6" height="25" fill="url(#vR)"/>
<rect x="1377" y="1171" width="14" height="27" fill="#a32828"/>
<rect x="1377" y="1171" width="14" height="1" fill="#971a1a"/>
<rect x="1381" y="1175" width="6" height="23" fill="url(#vR)"/>
<rect x="1391" y="1155" width="14" height="43" fill="#a32828"/>
<rect x="1391" y="1155" width="14" height="1" fill="#971a1a"/>
<rect x="1391" y="1155" width="1" height="16" fill="#971a1a"/>
<rect x="1395" y="1159" width="6" height="39" fill="url(#vR)"/>
<rect x="1403" y="1141" width="14" height="57" fill="#159415"/>
<rect x="1403" y="1141" width="14" height="1" fill="#0d8a0d"/>
<rect x="1403" y="1141" width="1" height="14" fill="#0d8a0d"/>
<rect x="1416" y="1141" width="1" height="28" fill="#0d8a0d"/>
<rect x="1407" y="1145" width="6" height="53" fill="url(#vG)"/>
<rect x="1417" y="1169" width="14" height="29" fill="#159415"/>
<rect x="1417" y="1169" width="14" height="1" fill="#0d8a0d"/>
<rect x="1430" y="1169" width="1" height="8" fill="#0d8a0d"/>
<rect x="1421" y="1173" width="6" height="25" fill="url(#vG)"/>
<rect x="1429" y="1177" width="14" height="21" fill="#a32828"/>
<rect x="1429" y="1177" width="14" height="1" fill="#971a1a"/>
<rect x="1433" y="1181" width="6" height="17" fill="url(#vR)"/>
<rect x="1443" y="1167" width="14" height="31" fill="#159415"/>
<rect x="1443" y="1167" width="14" height="1" fill="#0d8a0d"/>
<rect x="1443" y="1167" width="1" height="10" fill="#0d8a0d"/>
<rect x="1447" y="1171" width="6" height="27" fill="url(#vG)"/>
<rect x="1455" y="1161" width="14" height="37" fill="#159415"/>
<rect x="1455" y="1161" width="14" height="1" fill="#0d8a0d"/>
<rect x="1455" y="1161" width="1" height="6" fill="#0d8a0d"/>
<rect x="1468" y="1161" width="1" height="12" fill="#0d8a0d"/>
<rect x="1459" y="1165" width="6" height="33" fill="url(#vG)"/>
<rect x="1469" y="1173" width="14" height="25" fill="#a32828"/>
<rect x="1469" y="1173" width="14" height="1" fill="#971a1a"/>
<rect x="1473" y="1177" width="6" height="21" fill="url(#vR)"/>
<rect x="1481" y="1157" width="14" height="41" fill="#159415"/>
<rect x="1481" y="1157" width="14" height="1" fill="#0d8a0d"/>
<rect x="1481" y="1157" width="1" height="16" fill="#0d8a0d"/>
<rect x="1494" y="1157" width="1" height="16" fill="#0d8a0d"/>
<rect x="1485" y="1161" width="6" height="37" fill="url(#vG)"/>
<rect x="1495" y="1173" width="14" height="25" fill="#a32828"/>
<rect x="1495" y="1173" width="14" height="1" fill="#971a1a"/>
<rect x="1499" y="1177" width="6" height="21" fill="url(#vR)"/>
<rect x="1507" y="1163" width="14" height="35" fill="#a32828"/>
<rect x="1507" y="1163" width="14" height="1" fill="#971a1a"/>
<rect x="1507" y="1163" width="1" height="10" fill="#971a1a"/>
<rect x="1511" y="1167" width="6" height="31" fill="url(#vR)"/>
<rect x="1519" y="1141" width="14" height="57" fill="#a32828"/>
<rect x="1519" y="1141" width="14" height="1" fill="#971a1a"/>
<rect x="1519" y="1141" width="1" height="22" fill="#971a1a"/>
<rect x="1532" y="1141" width="1" height="22" fill="#971a1a"/>
<rect x="1523" y="1145" width="6" height="53" fill="url(#vR)"/>
<rect x="1533" y="1163" width="14" height="35" fill="#159415"/>
<rect x="1533" y="1163" width="14" height="1" fill="#0d8a0d"/>
<rect x="1546" y="1163" width="1" height="10" fill="#0d8a0d"/>
<rect x="1537" y="1167" width="6" height="31" fill="url(#vG)"/>
<rect x="1545" y="1173" width="14" height="25" fill="#159415"/>
<rect x="1545" y="1173" width="14" height="1" fill="#0d8a0d"/>
<rect x="1558" y="1173" width="1" height="2" fill="#0d8a0d"/>
<rect x="1549" y="1177" width="6" height="21" fill="url(#vG)"/>
<rect x="1559" y="1175" width="14" height="23" fill="#159415"/>
<rect x="1559" y="1175" width="14" height="1" fill="#0d8a0d"/>
<rect x="1572" y="1175" width="1" height="2" fill="#0d8a0d"/>
<rect x="1563" y="1179" width="6" height="19" fill="url(#vG)"/>
<rect x="1571" y="1177" width="14" height="21" fill="#a32828"/>
<rect x="1571" y="1177" width="14" height="1" fill="#971a1a"/>
<rect x="1575" y="1181" width="6" height="17" fill="url(#vR)"/>
<rect x="1585" y="1171" width="14" height="27" fill="#a32828"/>
<rect x="1585" y="1171" width="14" height="1" fill="#971a1a"/>
<rect x="1585" y="1171" width="1" height="6" fill="#971a1a"/>
<rect x="1589" y="1175" width="6" height="23" fill="url(#vR)"/>
<rect x="1597" y="1165" width="14" height="33" fill="#a32828"/>
<rect x="1597" y="1165" width="14" height="1" fill="#971a1a"/>
<rect x="1597" y="1165" width="1" height="6" fill="#971a1a"/>
<rect x="1610" y="1165" width="1" height="22" fill="#971a1a"/>
<rect x="1601" y="1169" width="6" height="29" fill="url(#vR)"/>
<rect x="1611" y="1187" width="14" height="11" fill="#159415"/>
<rect x="1611" y="1187" width="14" height="1" fill="#0d8a0d"/>
<rect x="1615" y="1191" width="6" height="7" fill="url(#vG)"/>
<rect x="1623" y="1179" width="14" height="19" fill="#a32828"/>
<rect x="1623" y="1179" width="14" height="1" fill="#971a1a"/>
<rect x="1623" y="1179" width="1" height="8" fill="#971a1a"/>
<rect x="1627" y="1183" width="6" height="15" fill="url(#vR)"/>
<rect x="1637" y="1167" width="14" height="31" fill="#a32828"/>
<rect x="1637" y="1167" width="14" height="1" fill="#971a1a"/>
<rect x="1637" y="1167" width="1" height="12" fill="#971a1a"/>
<rect x="1650" y="1167" width="1" height="16" fill="#971a1a"/>
<rect x="1641" y="1171" width="6" height="27" fill="url(#vR)"/>
<rect x="1649" y="1183" width="14" height="15" fill="#a32828"/>
<rect x="1649" y="1183" width="14" height="1" fill="#971a1a"/>
<rect x="1662" y="1183" width="1" height="15" fill="#971a1a"/>
<rect x="1653" y="1187" width="6" height="11" fill="url(#vR)"/>
<rect x="0" y="1109" width="1918" height="2" fill="#f83c48" fill-opacity="0.6"/>
<rect x="299" y="1083" width="2" height="115" fill="#ec3c46" fill-opacity="0.62"/>
<circle cx="300" cy="1178.6" r="5.9" fill="#e2e8fc" stroke="#4aba4a" stroke-width="2.4"/>
</g>
<rect x="0" y="1198" width="1918" height="1" fill="#6e8c9a"/>
<rect x="0" y="1199" width="1918" height="1" fill="#9fb5c1"/>
<rect x="0" y="1200" width="1918" height="38" fill="#ffffff"/>
<rect x="27" y="1200" width="2" height="7" fill="#8aa2b0"/>
<rect x="131" y="1200" width="2" height="7" fill="#8aa2b0"/>
<rect x="209" y="1200" width="2" height="7" fill="#8aa2b0"/>
<rect x="441" y="1200" width="2" height="7" fill="#8aa2b0"/>
<rect x="519" y="1200" width="2" height="7" fill="#8aa2b0"/>
<rect x="583" y="1200" width="2" height="7" fill="#8aa2b0"/>
<rect x="673" y="1200" width="2" height="7" fill="#8aa2b0"/>
<rect x="751" y="1200" width="2" height="7" fill="#8aa2b0"/>
<rect x="841" y="1200" width="2" height="7" fill="#8aa2b0"/>
<rect x="905" y="1200" width="2" height="7" fill="#8aa2b0"/>
<rect x="983" y="1200" width="2" height="7" fill="#8aa2b0"/>
<rect x="1061" y="1200" width="2" height="7" fill="#8aa2b0"/>
<rect x="1139" y="1200" width="2" height="7" fill="#8aa2b0"/>
<rect x="1215" y="1200" width="2" height="7" fill="#8aa2b0"/>
<rect x="1293" y="1200" width="2" height="7" fill="#8aa2b0"/>
<rect x="1371" y="1200" width="2" height="7" fill="#8aa2b0"/>
<rect x="1449" y="1200" width="2" height="7" fill="#8aa2b0"/>
<rect x="1525" y="1200" width="2" height="7" fill="#8aa2b0"/>
<rect x="1603" y="1200" width="2" height="7" fill="#8aa2b0"/>
<rect x="1655" y="1200" width="2" height="7" fill="#8aa2b0"/>
<rect x="1759" y="1200" width="2" height="7" fill="#8aa2b0"/>
<rect x="1835" y="1200" width="2" height="7" fill="#8aa2b0"/>
<rect x="363" y="1200" width="2" height="7" fill="#8aa2b0"/>
<rect x="298.7" y="1199" width="2.6" height="8" fill="#000"/>
<text x="28" y="1230" text-anchor="middle" style="font-weight:bold;font-size:24.7px">déc.</text>
<text x="132" y="1230" text-anchor="middle">13</text>
<text x="210" y="1230" text-anchor="middle">21</text>
<text x="442" y="1230" text-anchor="middle">17</text>
<text x="520" y="1230" text-anchor="middle">25</text>
<text x="584" y="1230" text-anchor="middle" style="font-weight:bold;font-size:24.7px">févr.</text>
<text x="674" y="1230" text-anchor="middle">10</text>
<text x="752" y="1230" text-anchor="middle">20</text>
<text x="842" y="1230" text-anchor="middle" style="font-weight:bold;font-size:24.7px">mars</text>
<text x="906" y="1230" text-anchor="middle">08</text>
<text x="984" y="1230" text-anchor="middle">16</text>
<text x="1062" y="1230" text-anchor="middle">24</text>
<text x="1140" y="1230" text-anchor="middle" style="font-weight:bold;font-size:24.7px">avr.</text>
<text x="1216" y="1230" text-anchor="middle">11</text>
<text x="1294" y="1230" text-anchor="middle">21</text>
<text x="1372" y="1230" text-anchor="middle" style="font-weight:bold;font-size:24.7px">mai</text>
<text x="1450" y="1230" text-anchor="middle">10</text>
<text x="1526" y="1230" text-anchor="middle">18</text>
<text x="1604" y="1230" text-anchor="middle">26</text>
<text x="1656" y="1230" text-anchor="middle" style="font-weight:bold;font-size:24.7px">juin</text>
<text x="1760" y="1230" text-anchor="middle">13</text>
<text x="1836" y="1230" text-anchor="middle">21</text>
<rect x="218" y="1208" width="164" height="26" fill="#ffff1e" stroke="#8098a8" stroke-width="2"/>
<text x="221.3" y="1229.5" style="font-size:21.85px">lun. 2 janv. 2017</text>
<polygon points="746,94 761.4,94 753.7,102" fill="#000"/>
<rect x="1588" y="70" width="2" height="52" fill="#6d8a98"/>
<rect x="1590" y="70" width="2" height="52" fill="#d8eef8"/>
<polygon points="1595.8,94 1610.2,94 1603,101.2" fill="#000"/>
<g>
<path d="M1524,98.8 L1531,93 L1538,86 L1543,80 Q1546.5,77.5 1549,80.5 L1552.5,85 Q1546,86.5 1540,92.5 Q1533,101 1529.5,103 Q1526.5,103.5 1524,99.8 Z" fill="#f4c0c0"/>
<path d="M1553,85 Q1558.5,86 1564,93 Q1568,98.5 1570.5,100 Q1567,106 1563,108.2 Q1559,106.5 1556.5,98 Z" fill="#c0ecc0"/>
<path d="M1571,99.8 Q1574,97 1577.5,94 Q1580,90 1584,78 L1584,94 Q1579,101 1575,101 Q1573,101 1571,99.8 Z" fill="#f4c0c0"/>
<path d="M1524,98.8 Q1531,93 1538,86 Q1543,80 1545.5,78.5 Q1548.5,77.5 1551.5,83 Q1554.5,89 1557,98 Q1560,108.5 1563.5,108.2 Q1566.5,107.5 1570.5,100 Q1573.5,95 1577.5,92 Q1580,89 1584,76.5" fill="none" stroke="#c01c1c" stroke-width="1.7" stroke-linecap="round"/>
<path d="M1524,99.5 Q1527,103.5 1529.5,103 Q1533,101.5 1540,92.5 Q1547,84.5 1552.5,84.5 Q1558,85 1564,93 Q1570.5,101 1575,101 Q1579.5,100.5 1584,93.7" fill="none" stroke="#18a418" stroke-width="1.7" stroke-linecap="round"/>
<rect x="1526.5" y="108.5" width="7" height="8" fill="#00cc00" stroke="#18a818" stroke-width="1"/>
<rect x="1536.5" y="112.5" width="7" height="4" fill="#ff6060" stroke="#c02020" stroke-width="1"/>
<rect x="1546.5" y="110.5" width="7" height="6" fill="#00cc00" stroke="#18a818" stroke-width="1"/>
<rect x="1556.5" y="112.5" width="7" height="4" fill="#00cc00" stroke="#18a818" stroke-width="1"/>
<rect x="1566.5" y="112.5" width="7" height="4" fill="#ff6060" stroke="#c02020" stroke-width="1"/>
<rect x="1576.5" y="106.5" width="7" height="10" fill="#00cc00" stroke="#18a818" stroke-width="1"/>
<rect x="1524" y="116" width="60" height="2" fill="#2222ee"/>
<polygon points="1566.2,78 1571.8,78 1571.8,84 1574.2,84 1569,90 1563.8,84 1566.2,84" fill="#f01818"/>
<polygon points="1547,94.5 1552,99.8 1549.8,99.8 1549.8,106 1544.2,106 1544.2,99.8 1542,99.8" fill="#08b808"/>
<path d="M1531.2,75 h7.7 v6.1 h5.9 v7.9 h-5.9 v5.7 h-7.7 v-5.7 h-6.2 v-7.9 h6.2 z" fill="#f6f6f6" stroke="#687c8a" stroke-width="1.9" stroke-linejoin="round"/>
<path d="M1535,78.5 v13 M1528.5,85 h13" stroke="#ebecee" stroke-width="1.6" fill="none"/>
</g>
<g>
<path d="M1881,13 L1899,13 L1904.5,18.5 L1904.5,35 L1881,35 Z" fill="#eeece1" stroke="#adadad" stroke-width="2" stroke-linejoin="round"/>
<path d="M1899,13 L1899,18.5 L1904.5,18.5 Z" fill="#dcdcdc" stroke="#b0b0b0" stroke-width="0.8"/>
<linearGradient id="xg" gradientUnits="userSpaceOnUse" x1="1885" y1="16" x2="1903" y2="33"><stop offset="0" stop-color="#d4d4d4"/><stop offset="1" stop-color="#989898"/></linearGradient>
<polygon points="1898.7,14.5 1903,18.8 1897.6,24.2 1903,29.6 1898.7,33.9 1893.3,28.5 1887.9,33.9 1883.6,29.6 1889,24.2 1883.6,18.8 1887.9,14.5 1893.3,19.9" fill="url(#xg)"/>
</g>
</svg>
</body></html>
